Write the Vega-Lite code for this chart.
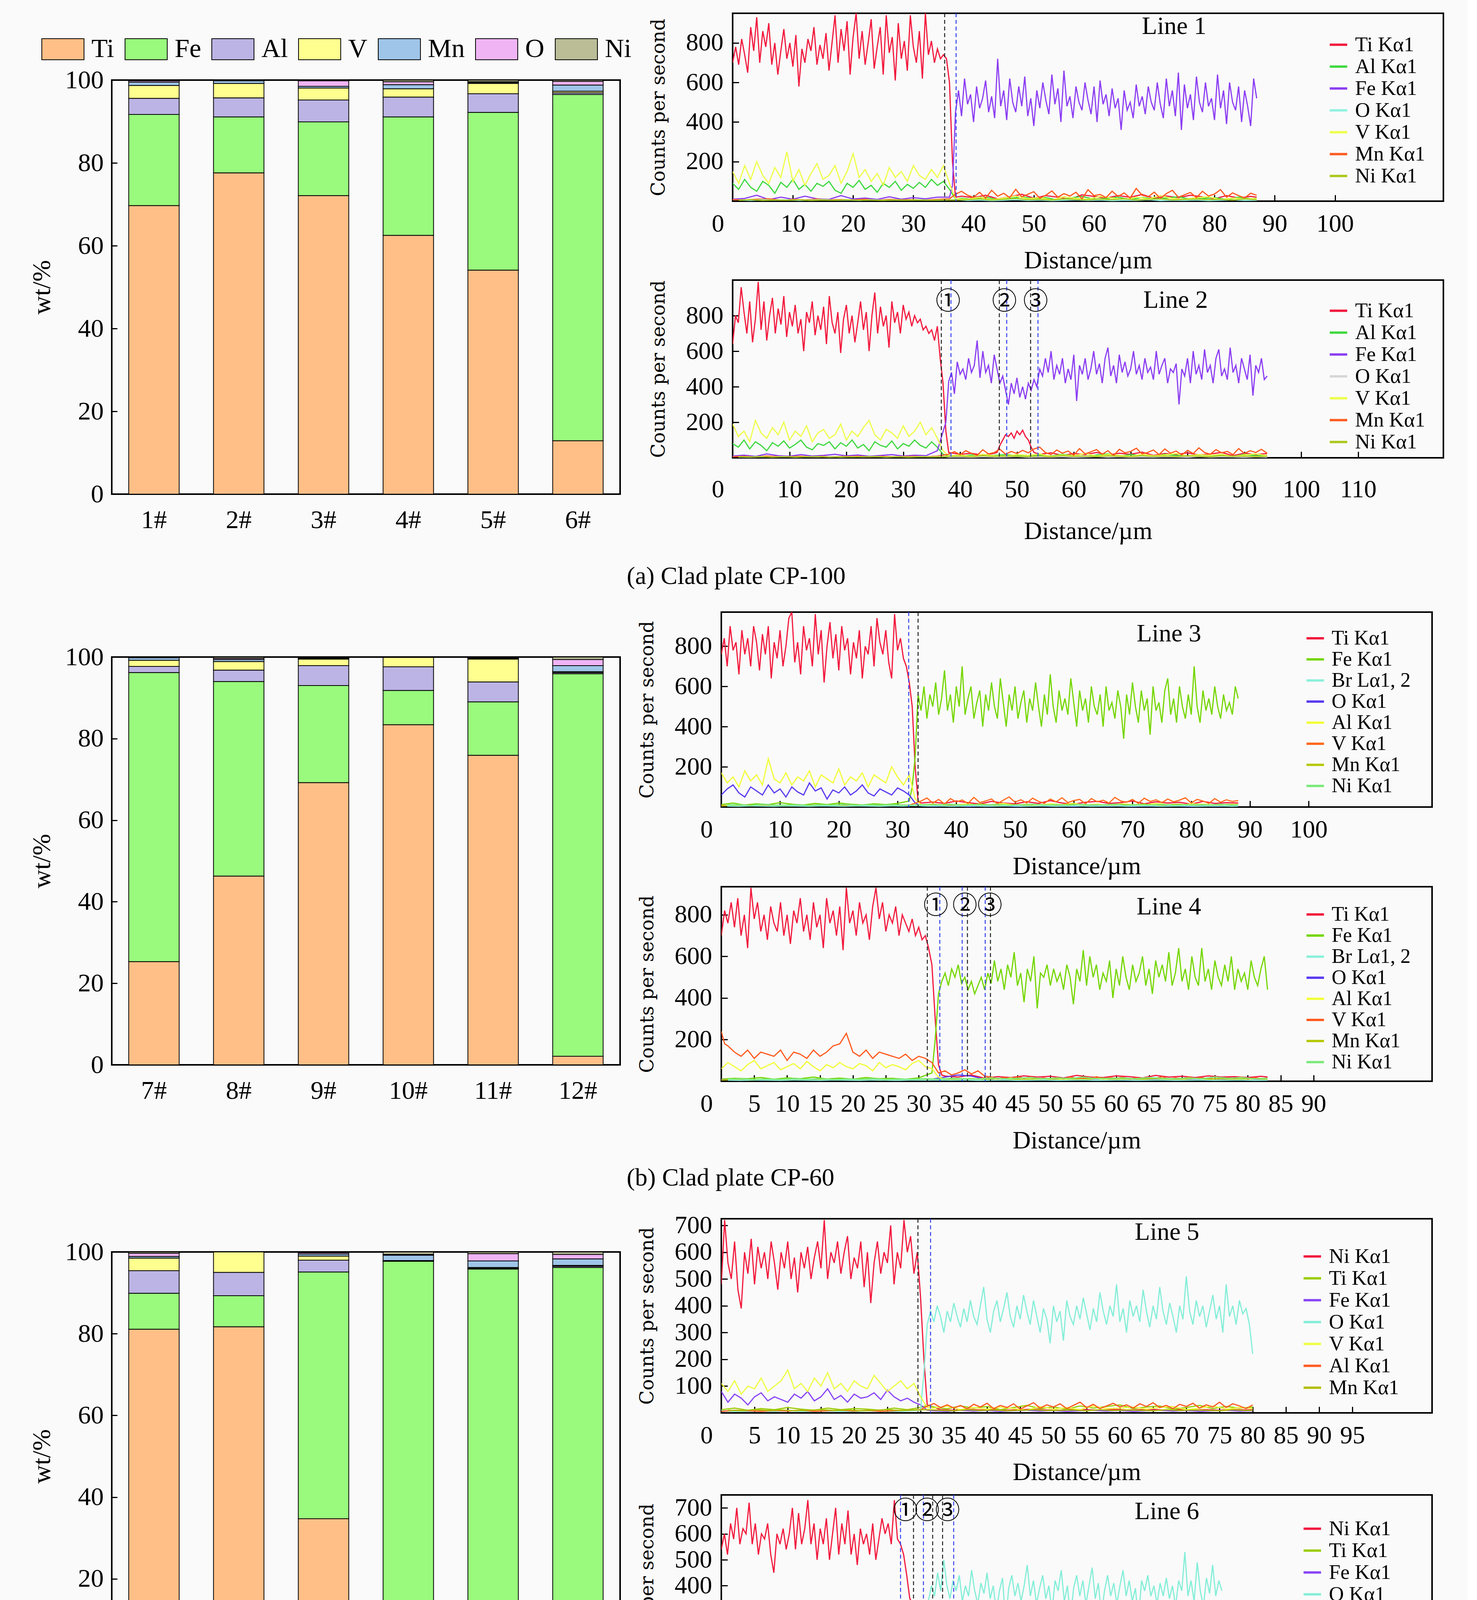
{
  "$schema": "https://vega.github.io/schema/vega-lite/v6.json",
  "background": "#FAFAFA",
  "padding": {"left": 72, "top": 30, "right": 60, "bottom": 0},
  "config": {
    "font": "Liberation Serif",
    "view": {"stroke": "#000000", "strokeWidth": 4},
    "axis": {"grid": false, "domain": false, "tickColor": "#000000", "tickWidth": 3, "labelColor": "#000000", "titleColor": "#000000", "titleFontWeight": "normal", "labelFont": "Liberation Serif", "titleFont": "Liberation Serif", "labelOverlap": false},
    "legend": {"labelColor": "#000000", "labelFont": "Liberation Serif", "padding": 0, "labelLimit": 0},
    "title": {"font": "Liberation Serif", "fontWeight": "normal", "color": "#000000"}
  },
  "datasets": {
    "B1": [
      {"s":"1#","Ti":69.7,"Fe":22.0,"Al":3.9,"V":3.1,"Mn":0.8,"O":0.3,"Ni":0.2},
      {"s":"2#","Ti":77.6,"Fe":13.5,"Al":4.6,"V":3.5,"Mn":0.6,"O":0.1,"Ni":0.1},
      {"s":"3#","Ti":72.1,"Fe":17.8,"Al":5.3,"V":2.9,"Mn":0.4,"O":1.3,"Ni":0.2},
      {"s":"4#","Ti":62.5,"Fe":28.6,"Al":4.8,"V":2.0,"Mn":1.0,"O":0.7,"Ni":0.4},
      {"s":"5#","Ti":54.1,"Fe":38.1,"Al":4.5,"V":2.5,"Mn":0.2,"O":0.2,"Ni":0.4},
      {"s":"6#","Ti":12.9,"Fe":83.6,"Al":0.4,"V":0.4,"Mn":1.5,"O":0.9,"Ni":0.3}
    ],
    "B2": [
      {"s":"7#","Ti":25.3,"Fe":70.9,"Al":1.5,"V":1.5,"Mn":0.6,"O":0.1,"Ni":0.1},
      {"s":"8#","Ti":46.3,"Fe":47.7,"Al":2.8,"V":2.1,"Mn":0.5,"O":0.3,"Ni":0.3},
      {"s":"9#","Ti":69.2,"Fe":23.8,"Al":4.9,"V":1.6,"Mn":0.2,"O":0.1,"Ni":0.2},
      {"s":"10#","Ti":83.4,"Fe":8.4,"Al":5.8,"V":2.3,"Mn":0.1,"O":0,"Ni":0},
      {"s":"11#","Ti":75.9,"Fe":13.1,"Al":4.9,"V":5.6,"Mn":0.2,"O":0.1,"Ni":0.2},
      {"s":"12#","Ti":2.1,"Fe":93.8,"Al":0.3,"V":0.2,"Mn":1.5,"O":1.5,"Ni":0.6}
    ],
    "B3": [
      {"s":"13#","Ti":81.1,"Fe":8.8,"Al":5.5,"V":3.1,"Mn":0.4,"O":0.8,"Ni":0.3},
      {"s":"14#","Ti":81.7,"Fe":7.6,"Al":5.7,"V":5.0,"Mn":0,"O":0,"Ni":0},
      {"s":"15#","Ti":34.7,"Fe":60.4,"Al":2.9,"V":1.0,"Mn":0.5,"O":0.3,"Ni":0.2},
      {"s":"16#","Ti":0.9,"Fe":96.8,"Al":0.1,"V":0.1,"Mn":1.3,"O":0.2,"Ni":0.6},
      {"s":"17#","Ti":2.2,"Fe":93.6,"Al":0.2,"V":0.2,"Mn":1.6,"O":1.8,"Ni":0.4},
      {"s":"18#","Ti":2.7,"Fe":93.5,"Al":0.3,"V":0.2,"Mn":1.6,"O":1.1,"Ni":0.6}
    ],
    "L1": [
      {"d":0,"Ti":700,"V":150,"Al":90,"Fe":10,"Mn":8},{"d":0.5,"Ti":780},
      {"d":1,"Ti":690,"V":90,"Al":60,"O":6,"Ni":5},{"d":1.5,"Ti":820},
      {"d":2,"Ti":740,"V":180,"Al":110,"Fe":14,"Mn":6},{"d":2.5,"Ti":650},
      {"d":3,"Ti":880,"V":110,"Al":70,"O":4,"Ni":8},{"d":3.5,"Ti":760},
      {"d":4,"Ti":930,"V":200,"Al":50,"Fe":30,"Mn":10},{"d":4.5,"Ti":700},
      {"d":5,"Ti":860,"V":130,"Al":100,"O":8,"Ni":4},{"d":5.5,"Ti":780},
      {"d":6,"Ti":900,"V":90,"Al":80,"Fe":8,"Mn":12},{"d":6.5,"Ti":690},
      {"d":7,"Ti":800,"V":170,"Al":40,"O":5,"Ni":6},{"d":7.5,"Ti":640},
      {"d":8,"Ti":760,"V":120,"Al":95,"Fe":20,"Mn":5},{"d":8.5,"Ti":870},
      {"d":9,"Ti":720,"V":250,"Al":70,"O":7,"Ni":5},{"d":9.5,"Ti":800},
      {"d":10,"Ti":680,"V":100,"Al":110,"Fe":10,"Mn":9},{"d":10.5,"Ti":840},
      {"d":11,"Ti":580,"V":160,"Al":60,"O":4,"Ni":7},{"d":11.5,"Ti":770},
      {"d":12,"Ti":700,"V":80,"Al":85,"Fe":25,"Mn":6},{"d":12.5,"Ti":820},
      {"d":13,"Ti":760,"V":140,"Al":50,"O":6,"Ni":4},{"d":13.5,"Ti":880},
      {"d":14,"Ti":690,"V":190,"Al":90,"Fe":12,"Mn":11},{"d":14.5,"Ti":790},
      {"d":15,"Ti":720,"V":110,"Al":75,"O":8,"Ni":6},{"d":15.5,"Ti":850},
      {"d":16,"Ti":660,"V":130,"Al":100,"Fe":9,"Mn":7},{"d":16.5,"Ti":800},
      {"d":17,"Ti":940,"V":180,"Al":55,"O":5,"Ni":5},{"d":17.5,"Ti":700},
      {"d":18,"Ti":870,"V":90,"Al":40,"Fe":28,"Mn":8},{"d":18.5,"Ti":760},
      {"d":19,"Ti":910,"V":150,"Al":90,"O":6,"Ni":7},{"d":19.5,"Ti":640},
      {"d":20,"Ti":830,"V":240,"Al":70,"Fe":11,"Mn":6},{"d":20.5,"Ti":950},
      {"d":21,"Ti":720,"V":120,"Al":105,"O":4,"Ni":5},{"d":21.5,"Ti":860},
      {"d":22,"Ti":690,"V":160,"Al":60,"Fe":16,"Mn":10},{"d":22.5,"Ti":800},
      {"d":23,"Ti":920,"V":100,"Al":80,"O":7,"Ni":6},{"d":23.5,"Ti":670},
      {"d":24,"Ti":780,"V":140,"Al":45,"Fe":9,"Mn":5},{"d":24.5,"Ti":880},
      {"d":25,"Ti":640,"V":80,"Al":90,"O":5,"Ni":4},{"d":25.5,"Ti":940},
      {"d":26,"Ti":750,"V":170,"Al":70,"Fe":22,"Mn":9},{"d":26.5,"Ti":830},
      {"d":27,"Ti":610,"V":120,"Al":100,"O":6,"Ni":6},{"d":27.5,"Ti":900},
      {"d":28,"Ti":720,"V":150,"Al":55,"Fe":10,"Mn":7},{"d":28.5,"Ti":810},
      {"d":29,"Ti":660,"V":100,"Al":85,"O":5,"Ni":5},{"d":29.5,"Ti":940},
      {"d":30,"Ti":780,"V":180,"Al":65,"Fe":18,"Mn":8},{"d":30.5,"Ti":700},
      {"d":31,"Ti":860,"V":130,"Al":95,"O":7,"Ni":6},{"d":31.5,"Ti":620},
      {"d":32,"Ti":950,"V":110,"Al":70,"Fe":12,"Mn":6},{"d":32.5,"Ti":740},
      {"d":33,"Ti":810,"V":160,"Al":110,"O":5,"Ni":5},{"d":33.5,"Ti":700},
      {"d":34,"Ti":770,"V":120,"Al":80,"Fe":20,"Mn":9},{"d":34.5,"Ti":720},
      {"d":35,"Ti":740,"V":180,"Al":100,"O":6,"Ni":6},{"d":35.5,"Ti":720},
      {"d":36,"Ti":600,"V":90,"Al":60,"Fe":20,"Mn":12},{"d":36.5,"Ti":200,"Fe":80},
      {"d":37,"Ti":20,"Fe":450,"V":12,"Al":10,"O":8,"Ni":6,"Mn":35},{"d":37.5,"Fe":560},
      {"d":38,"Fe":430,"Mn":50,"Ti":25,"Al":15},{"d":38.5,"Fe":620},
      {"d":39,"Fe":490,"Mn":30,"V":10,"O":4,"Ni":8},{"d":39.5,"Fe":540},
      {"d":40,"Fe":400,"Mn":20,"Ti":18,"Al":10},{"d":40.5,"Fe":580},
      {"d":41,"Fe":470,"Mn":45,"V":20,"O":6,"Ni":12},{"d":41.5,"Fe":520},
      {"d":42,"Fe":610,"Mn":15,"Ti":30,"Al":20},{"d":42.5,"Fe":450},
      {"d":43,"Fe":530,"Mn":55,"V":8,"O":3,"Ni":6},{"d":43.5,"Fe":420},
      {"d":44,"Fe":720,"Mn":25,"Ti":12,"Al":8},{"d":44.5,"Fe":480},
      {"d":45,"Fe":560,"Mn":40,"V":16,"O":5,"Ni":10},{"d":45.5,"Fe":410},
      {"d":46,"Fe":620,"Mn":18,"Ti":22,"Al":14},{"d":46.5,"Fe":500},
      {"d":47,"Fe":450,"Mn":60,"V":26,"O":8,"Ni":14},{"d":47.5,"Fe":580},
      {"d":48,"Fe":480,"Mn":22,"Ti":35,"Al":22},{"d":48.5,"Fe":630},
      {"d":49,"Fe":430,"Mn":35,"V":12,"O":4,"Ni":8},{"d":49.5,"Fe":520},
      {"d":50,"Fe":380,"Mn":48,"Ti":15,"Al":12},{"d":50.5,"Fe":560},
      {"d":51,"Fe":470,"Mn":15,"V":18,"O":6,"Ni":10},{"d":51.5,"Fe":600},
      {"d":52,"Fe":510,"Mn":30,"Ti":28,"Al":18},{"d":52.5,"Fe":440},
      {"d":53,"Fe":640,"Mn":52,"V":6,"O":3,"Ni":6},{"d":53.5,"Fe":490},
      {"d":54,"Fe":570,"Mn":20,"Ti":20,"Al":6},{"d":54.5,"Fe":400},
      {"d":55,"Fe":660,"Mn":38,"V":22,"O":5,"Ni":12},{"d":55.5,"Fe":480},
      {"d":56,"Fe":530,"Mn":26,"Ti":10,"Al":16},{"d":56.5,"Fe":420},
      {"d":57,"Fe":580,"Mn":45,"V":14,"O":7,"Ni":9},{"d":57.5,"Fe":500},
      {"d":58,"Fe":460,"Mn":12,"Ti":32,"Al":24},{"d":58.5,"Fe":600},
      {"d":59,"Fe":510,"Mn":58,"V":10,"O":4,"Ni":7},{"d":59.5,"Fe":440},
      {"d":60,"Fe":580,"Mn":28,"Ti":24,"Al":10},{"d":60.5,"Fe":400},
      {"d":61,"Fe":610,"Mn":34,"V":24,"O":6,"Ni":11},{"d":61.5,"Fe":490},
      {"d":62,"Fe":540,"Mn":18,"Ti":16,"Al":14},{"d":62.5,"Fe":430},
      {"d":63,"Fe":570,"Mn":50,"V":16,"O":3,"Ni":8},{"d":63.5,"Fe":470},
      {"d":64,"Fe":520,"Mn":24,"Ti":28,"Al":20},{"d":64.5,"Fe":360},
      {"d":65,"Fe":560,"Mn":42,"V":8,"O":5,"Ni":13},{"d":65.5,"Fe":460},
      {"d":66,"Fe":500,"Mn":16,"Ti":20,"Al":8},{"d":66.5,"Fe":420},
      {"d":67,"Fe":590,"Mn":64,"V":20,"O":4,"Ni":6},{"d":67.5,"Fe":480},
      {"d":68,"Fe":530,"Mn":30,"Ti":34,"Al":18},{"d":68.5,"Fe":440},
      {"d":69,"Fe":580,"Mn":22,"V":12,"O":8,"Ni":10},{"d":69.5,"Fe":500},
      {"d":70,"Fe":460,"Mn":46,"Ti":14,"Al":12},{"d":70.5,"Fe":600},
      {"d":71,"Fe":490,"Mn":14,"V":28,"O":3,"Ni":12},{"d":71.5,"Fe":420},
      {"d":72,"Fe":620,"Mn":38,"Ti":26,"Al":16},{"d":72.5,"Fe":480},
      {"d":73,"Fe":560,"Mn":55,"V":14,"O":5,"Ni":7},{"d":73.5,"Fe":430},
      {"d":74,"Fe":650,"Mn":20,"Ti":18,"Al":22},{"d":74.5,"Fe":360},
      {"d":75,"Fe":590,"Mn":32,"V":10,"O":4,"Ni":9},{"d":75.5,"Fe":470},
      {"d":76,"Fe":540,"Mn":44,"Ti":30,"Al":10},{"d":76.5,"Fe":410},
      {"d":77,"Fe":630,"Mn":18,"V":18,"O":6,"Ni":11},{"d":77.5,"Fe":500},
      {"d":78,"Fe":450,"Mn":50,"Ti":22,"Al":14},{"d":78.5,"Fe":600},
      {"d":79,"Fe":480,"Mn":26,"V":22,"O":3,"Ni":8},{"d":79.5,"Fe":520},
      {"d":80,"Fe":410,"Mn":36,"Ti":12,"Al":18},{"d":80.5,"Fe":640},
      {"d":81,"Fe":470,"Mn":58,"V":8,"O":5,"Ni":10},{"d":81.5,"Fe":560},
      {"d":82,"Fe":390,"Mn":20,"Ti":28,"Al":8},{"d":82.5,"Fe":600},
      {"d":83,"Fe":500,"Mn":42,"V":16,"O":7,"Ni":6},{"d":83.5,"Fe":460},
      {"d":84,"Fe":580,"Mn":28,"Ti":16,"Al":20},{"d":84.5,"Fe":400},
      {"d":85,"Fe":560,"Mn":16,"V":12,"O":4,"Ni":12},{"d":85.5,"Fe":480},
      {"d":86,"Fe":380,"Mn":40,"Ti":24,"Al":12},{"d":86.5,"Fe":620},
      {"d":87,"Fe":520,"Mn":30,"Ti":20,"Al":15,"V":14,"O":5,"Ni":8}
    ],
    "L2": [
      {"d":0,"Ti":640,"V":190,"Al":80,"Fe":10,"Mn":6},{"d":0.5,"Ti":800},
      {"d":1,"Ti":760,"V":120,"Al":60,"O":5,"Ni":6},{"d":1.5,"Ti":960},
      {"d":2,"Ti":820,"V":150,"Al":100,"Fe":15,"Mn":8},{"d":2.5,"Ti":700},
      {"d":3,"Ti":880,"V":90,"Al":50,"O":4,"Ni":5},{"d":3.5,"Ti":650},
      {"d":4,"Ti":780,"V":210,"Al":90,"Fe":8,"Mn":5},{"d":4.5,"Ti":990},
      {"d":5,"Ti":720,"V":140,"Al":70,"O":6,"Ni":7},{"d":5.5,"Ti":880},
      {"d":6,"Ti":660,"V":110,"Al":40,"Fe":22,"Mn":10},{"d":6.5,"Ti":800},
      {"d":7,"Ti":900,"V":170,"Al":85,"O":5,"Ni":4},{"d":7.5,"Ti":700},
      {"d":8,"Ti":840,"V":130,"Al":65,"Fe":12,"Mn":7},{"d":8.5,"Ti":750},
      {"d":9,"Ti":910,"V":200,"Al":95,"O":7,"Ni":6},{"d":9.5,"Ti":680},
      {"d":10,"Ti":820,"V":100,"Al":55,"Fe":9,"Mn":6},{"d":10.5,"Ti":740},
      {"d":11,"Ti":860,"V":150,"Al":75,"O":4,"Ni":5},{"d":11.5,"Ti":700},
      {"d":12,"Ti":780,"V":120,"Al":100,"Fe":18,"Mn":9},{"d":12.5,"Ti":600},
      {"d":13,"Ti":820,"V":180,"Al":60,"O":6,"Ni":6},{"d":13.5,"Ti":760},
      {"d":14,"Ti":880,"V":90,"Al":45,"Fe":10,"Mn":5},{"d":14.5,"Ti":690},
      {"d":15,"Ti":800,"V":140,"Al":80,"O":5,"Ni":7},{"d":15.5,"Ti":720},
      {"d":16,"Ti":850,"V":160,"Al":70,"Fe":14,"Mn":8},{"d":16.5,"Ti":640},
      {"d":17,"Ti":910,"V":110,"Al":90,"O":7,"Ni":4},{"d":17.5,"Ti":760},
      {"d":18,"Ti":700,"V":130,"Al":50,"Fe":20,"Mn":6},{"d":18.5,"Ti":820},
      {"d":19,"Ti":590,"V":190,"Al":85,"O":4,"Ni":6},{"d":19.5,"Ti":780},
      {"d":20,"Ti":860,"V":100,"Al":65,"Fe":11,"Mn":7},{"d":20.5,"Ti":700},
      {"d":21,"Ti":800,"V":150,"Al":100,"O":6,"Ni":5},{"d":21.5,"Ti":650},
      {"d":22,"Ti":760,"V":120,"Al":55,"Fe":16,"Mn":9},{"d":22.5,"Ti":880},
      {"d":23,"Ti":720,"V":170,"Al":75,"O":5,"Ni":6},{"d":23.5,"Ti":820},
      {"d":24,"Ti":600,"V":210,"Al":40,"Fe":9,"Mn":5},{"d":24.5,"Ti":800},
      {"d":25,"Ti":930,"V":130,"Al":90,"O":7,"Ni":7},{"d":25.5,"Ti":700},
      {"d":26,"Ti":850,"V":100,"Al":70,"Fe":13,"Mn":8},{"d":26.5,"Ti":740},
      {"d":27,"Ti":800,"V":160,"Al":60,"O":4,"Ni":5},{"d":27.5,"Ti":620},
      {"d":28,"Ti":880,"V":140,"Al":95,"Fe":18,"Mn":6},{"d":28.5,"Ti":760},
      {"d":29,"Ti":820,"V":110,"Al":50,"O":6,"Ni":6},{"d":29.5,"Ti":700},
      {"d":30,"Ti":860,"V":180,"Al":80,"Fe":10,"Mn":7},{"d":30.5,"Ti":780},
      {"d":31,"Ti":820,"V":120,"Al":65,"O":5,"Ni":4},{"d":31.5,"Ti":740},
      {"d":32,"Ti":800,"V":150,"Al":100,"Fe":15,"Mn":9},{"d":32.5,"Ti":760},
      {"d":33,"Ti":780,"V":200,"Al":70,"O":7,"Ni":6},{"d":33.5,"Ti":720},
      {"d":34,"Ti":740,"V":130,"Al":55,"Fe":12,"Mn":6},{"d":34.5,"Ti":700},
      {"d":35,"Ti":720,"V":170,"Al":90,"O":6,"Ni":5},{"d":35.5,"Ti":660},
      {"d":36,"Ti":740,"V":110,"Al":60,"Fe":40,"Mn":10},{"d":36.5,"Ti":560},
      {"d":37,"Ti":420,"V":40,"Al":20,"O":8,"Ni":6},{"d":37.5,"Ti":150,"Fe":200},
      {"d":38,"Ti":30,"Fe":430,"Mn":20,"Al":12,"V":10,"O":4,"Ni":8},{"d":38.5,"Fe":480},
      {"d":39,"Fe":360,"Mn":35},{"d":39.5,"Fe":540},
      {"d":40,"Fe":470,"Mn":18,"Ti":20,"Al":8,"V":16,"O":5,"Ni":10},{"d":40.5,"Fe":500},
      {"d":41,"Fe":440,"Mn":40},{"d":41.5,"Fe":560},
      {"d":42,"Fe":480,"Mn":25,"Ti":25,"Al":16,"V":8,"O":3,"Ni":6},{"d":42.5,"Fe":520},
      {"d":43,"Fe":660,"Mn":14},{"d":43.5,"Fe":450},
      {"d":44,"Fe":600,"Mn":45,"Ti":15,"Al":10,"V":20,"O":6,"Ni":12},{"d":44.5,"Fe":480},
      {"d":45,"Fe":520,"Mn":22},{"d":45.5,"Fe":420},
      {"d":46,"Fe":580,"Mn":30,"Ti":25,"Al":14,"V":12,"O":4,"Ni":8},{"d":46.5,"Fe":500,"Ti":30},
      {"d":47,"Fe":420,"Ti":70,"Mn":48},{"d":47.5,"Fe":460,"Ti":100},
      {"d":48,"Fe":380,"Ti":130,"Mn":20,"Al":18,"V":10,"O":5,"Ni":10},{"d":48.5,"Fe":300,"Ti":120},
      {"d":49,"Fe":420,"Ti":140,"Mn":36},{"d":49.5,"Fe":360,"Ti":110},
      {"d":50,"Fe":450,"Ti":150,"Mn":24,"Al":12,"V":18,"O":7,"Ni":9},{"d":50.5,"Fe":340,"Ti":130},
      {"d":51,"Fe":400,"Ti":155,"Mn":42},{"d":51.5,"Fe":330,"Ti":120},
      {"d":52,"Fe":420,"Ti":100,"Mn":28,"Al":8,"V":14,"O":3,"Ni":7},{"d":52.5,"Fe":380,"Ti":60},
      {"d":53,"Fe":440,"Ti":30,"Mn":50},{"d":53.5,"Fe":400},
      {"d":54,"Fe":500,"Mn":60,"Ti":20,"Al":16,"V":22,"O":5,"Ni":11},{"d":54.5,"Fe":460},
      {"d":55,"Fe":560,"Mn":30},{"d":55.5,"Fe":480},
      {"d":56,"Fe":600,"Mn":18,"Ti":28,"Al":10,"V":8,"O":4,"Ni":6},{"d":56.5,"Fe":440},
      {"d":57,"Fe":520,"Mn":44},{"d":57.5,"Fe":470},
      {"d":58,"Fe":560,"Mn":26,"Ti":14,"Al":20,"V":16,"O":6,"Ni":12},{"d":58.5,"Fe":420},
      {"d":59,"Fe":500,"Mn":38},{"d":59.5,"Fe":440},
      {"d":60,"Fe":580,"Mn":15,"Ti":24,"Al":12,"V":12,"O":3,"Ni":8},{"d":60.5,"Fe":320},
      {"d":61,"Fe":520,"Mn":52},{"d":61.5,"Fe":470},
      {"d":62,"Fe":560,"Mn":22,"Ti":18,"Al":6,"V":24,"O":5,"Ni":10},{"d":62.5,"Fe":440},
      {"d":63,"Fe":500,"Mn":34},{"d":63.5,"Fe":600},
      {"d":64,"Fe":470,"Mn":46,"Ti":30,"Al":16,"V":10,"O":7,"Ni":7},{"d":64.5,"Fe":530},
      {"d":65,"Fe":420,"Mn":20},{"d":65.5,"Fe":560},
      {"d":66,"Fe":620,"Mn":40,"Ti":16,"Al":22,"V":18,"O":4,"Ni":11},{"d":66.5,"Fe":460},
      {"d":67,"Fe":520,"Mn":12},{"d":67.5,"Fe":420},
      {"d":68,"Fe":580,"Mn":48,"Ti":26,"Al":10,"V":14,"O":6,"Ni":9},{"d":68.5,"Fe":480},
      {"d":69,"Fe":540,"Mn":28},{"d":69.5,"Fe":460},
      {"d":70,"Fe":500,"Mn":36,"Ti":20,"Al":18,"V":8,"O":3,"Ni":6},{"d":70.5,"Fe":600},
      {"d":71,"Fe":470,"Mn":54},{"d":71.5,"Fe":520},
      {"d":72,"Fe":440,"Mn":22,"Ti":32,"Al":12,"V":20,"O":5,"Ni":12},{"d":72.5,"Fe":560},
      {"d":73,"Fe":480,"Mn":30},{"d":73.5,"Fe":510},
      {"d":74,"Fe":440,"Mn":44,"Ti":14,"Al":8,"V":12,"O":4,"Ni":8},{"d":74.5,"Fe":600},
      {"d":75,"Fe":470,"Mn":18},{"d":75.5,"Fe":520},
      {"d":76,"Fe":560,"Mn":50,"Ti":24,"Al":20,"V":16,"O":6,"Ni":10},{"d":76.5,"Fe":420},
      {"d":77,"Fe":500,"Mn":26},{"d":77.5,"Fe":480},
      {"d":78,"Fe":530,"Mn":38,"Ti":18,"Al":14,"V":24,"O":5,"Ni":7},{"d":78.5,"Fe":300},
      {"d":79,"Fe":500,"Mn":16},{"d":79.5,"Fe":460},
      {"d":80,"Fe":560,"Mn":42,"Ti":28,"Al":10,"V":10,"O":3,"Ni":11},{"d":80.5,"Fe":420},
      {"d":81,"Fe":600,"Mn":24},{"d":81.5,"Fe":470},
      {"d":82,"Fe":520,"Mn":56,"Ti":16,"Al":18,"V":18,"O":7,"Ni":9},{"d":82.5,"Fe":440},
      {"d":83,"Fe":610,"Mn":30},{"d":83.5,"Fe":480},
      {"d":84,"Fe":520,"Mn":20,"Ti":22,"Al":12,"V":14,"O":4,"Ni":6},{"d":84.5,"Fe":420},
      {"d":85,"Fe":560,"Mn":46},{"d":85.5,"Fe":610},
      {"d":86,"Fe":460,"Mn":28,"Ti":30,"Al":16,"V":20,"O":6,"Ni":12},{"d":86.5,"Fe":500},
      {"d":87,"Fe":440,"Mn":36},{"d":87.5,"Fe":620},
      {"d":88,"Fe":480,"Mn":18,"Ti":12,"Al":8,"V":8,"O":5,"Ni":8},{"d":88.5,"Fe":520},
      {"d":89,"Fe":420,"Mn":52},{"d":89.5,"Fe":560},
      {"d":90,"Fe":500,"Mn":24,"Ti":26,"Al":20,"V":16,"O":3,"Ni":10},{"d":90.5,"Fe":440},
      {"d":91,"Fe":580,"Mn":40},{"d":91.5,"Fe":350},
      {"d":92,"Fe":520,"Mn":30,"Ti":18,"Al":12,"V":22,"O":6,"Ni":7},{"d":92.5,"Fe":480},
      {"d":93,"Fe":560,"Mn":48},{"d":93.5,"Fe":440},
      {"d":94,"Fe":460,"Mn":26,"Ti":24,"Al":14,"V":12,"O":4,"Ni":9}
    ],
    "L3": [
      {"d":0,"Ti":760,"Al":170,"O":60,"Fe":12,"V":8,"Mn":6},{"d":0.5,"Ti":840},
      {"d":1,"Ti":700,"Al":120,"O":90,"Br":5,"Ni":10},{"d":1.5,"Ti":900},
      {"d":2,"Ti":780,"Al":150,"O":110,"Fe":20,"V":6,"Mn":8},{"d":2.5,"Ti":820},
      {"d":3,"Ti":660,"Al":100,"O":70,"Br":4,"Ni":12},{"d":3.5,"Ti":880},
      {"d":4,"Ti":760,"Al":180,"O":50,"Fe":10,"V":10,"Mn":5},{"d":4.5,"Ti":840},
      {"d":5,"Ti":700,"Al":130,"O":100,"Br":6,"Ni":8},{"d":5.5,"Ti":900},
      {"d":6,"Ti":820,"Al":160,"O":80,"Fe":16,"V":7,"Mn":9},{"d":6.5,"Ti":680},
      {"d":7,"Ti":860,"Al":110,"O":60,"Br":5,"Ni":14},{"d":7.5,"Ti":760},
      {"d":8,"Ti":900,"Al":240,"O":110,"Fe":12,"V":9,"Mn":6},{"d":8.5,"Ti":640},
      {"d":9,"Ti":820,"Al":140,"O":70,"Br":4,"Ni":10},{"d":9.5,"Ti":740},
      {"d":10,"Ti":880,"Al":120,"O":90,"Fe":22,"V":5,"Mn":7},{"d":10.5,"Ti":700},
      {"d":11,"Ti":800,"Al":170,"O":50,"Br":6,"Ni":9},{"d":11.5,"Ti":940},
      {"d":12,"Ti":970,"Al":110,"O":100,"Fe":14,"V":8,"Mn":5},{"d":12.5,"Ti":720},
      {"d":13,"Ti":820,"Al":150,"O":75,"Br":5,"Ni":12},{"d":13.5,"Ti":660},
      {"d":14,"Ti":900,"Al":130,"O":60,"Fe":10,"V":6,"Mn":8},{"d":14.5,"Ti":780},
      {"d":15,"Ti":840,"Al":180,"O":120,"Br":4,"Ni":8},{"d":15.5,"Ti":700},
      {"d":16,"Ti":960,"Al":100,"O":80,"Fe":18,"V":10,"Mn":6},{"d":16.5,"Ti":760},
      {"d":17,"Ti":880,"Al":160,"O":95,"Br":6,"Ni":11},{"d":17.5,"Ti":620},
      {"d":18,"Ti":800,"Al":140,"O":40,"Fe":12,"V":7,"Mn":9},{"d":18.5,"Ti":920},
      {"d":19,"Ti":740,"Al":120,"O":85,"Br":5,"Ni":10},{"d":19.5,"Ti":860},
      {"d":20,"Ti":680,"Al":190,"O":70,"Fe":20,"V":5,"Mn":7},{"d":20.5,"Ti":900},
      {"d":21,"Ti":780,"Al":110,"O":100,"Br":4,"Ni":13},{"d":21.5,"Ti":840},
      {"d":22,"Ti":660,"Al":150,"O":60,"Fe":14,"V":9,"Mn":5},{"d":22.5,"Ti":820},
      {"d":23,"Ti":740,"Al":130,"O":80,"Br":6,"Ni":9},{"d":23.5,"Ti":880},
      {"d":24,"Ti":640,"Al":170,"O":110,"Fe":10,"V":6,"Mn":8},{"d":24.5,"Ti":800},
      {"d":25,"Ti":760,"Al":100,"O":70,"Br":5,"Ni":11},{"d":25.5,"Ti":900},
      {"d":26,"Ti":700,"Al":160,"O":55,"Fe":16,"V":8,"Mn":6},{"d":26.5,"Ti":940},
      {"d":27,"Ti":820,"Al":140,"O":90,"Br":4,"Ni":10},{"d":27.5,"Ti":760},
      {"d":28,"Ti":880,"Al":120,"O":75,"Fe":12,"V":7,"Mn":9},{"d":28.5,"Ti":720},
      {"d":29,"Ti":640,"Al":200,"O":60,"Br":6,"Ni":12},{"d":29.5,"Ti":960},
      {"d":30,"Ti":780,"Al":150,"O":95,"Fe":18,"V":10,"Mn":7},{"d":30.5,"Ti":840},
      {"d":31,"Ti":740,"Al":110,"O":80,"Br":5,"Ni":9},{"d":31.5,"Ti":700},
      {"d":32,"Ti":620,"Al":160,"O":60,"Fe":30,"V":9,"Mn":8},{"d":32.5,"Ti":500,"Fe":100},
      {"d":33,"Ti":200,"Al":40,"O":20,"Fe":250,"Br":8,"Ni":10},{"d":33.5,"Ti":30,"Fe":560},
      {"d":34,"Fe":480,"V":30,"Ti":20,"Al":12,"O":6,"Mn":10},{"d":34.5,"Fe":600},
      {"d":35,"Fe":440,"V":45,"Br":5,"Ni":12},{"d":35.5,"Fe":560},
      {"d":36,"Fe":500,"V":20,"Ti":25,"Al":8,"O":4,"Mn":14},{"d":36.5,"Fe":620},
      {"d":37,"Fe":460,"V":38,"Br":6,"Ni":10},{"d":37.5,"Fe":540},
      {"d":38,"Fe":680,"V":15,"Ti":18,"Al":14,"O":5,"Mn":9},{"d":38.5,"Fe":480},
      {"d":39,"Fe":560,"V":42,"Br":4,"Ni":14},{"d":39.5,"Fe":420},
      {"d":40,"Fe":600,"V":25,"Ti":30,"Al":10,"O":6,"Mn":12},{"d":40.5,"Fe":500},
      {"d":41,"Fe":700,"V":35,"Br":5,"Ni":9},{"d":41.5,"Fe":460},
      {"d":42,"Fe":540,"V":18,"Ti":22,"Al":16,"O":3,"Mn":8},{"d":42.5,"Fe":600},
      {"d":43,"Fe":440,"V":48,"Br":6,"Ni":12},{"d":43.5,"Fe":520},
      {"d":44,"Fe":580,"V":22,"Ti":15,"Al":9,"O":5,"Mn":15},{"d":44.5,"Fe":400},
      {"d":45,"Fe":560,"V":30,"Br":4,"Ni":10},{"d":45.5,"Fe":480},
      {"d":46,"Fe":620,"V":40,"Ti":28,"Al":12,"O":4,"Mn":10},{"d":46.5,"Fe":500},
      {"d":47,"Fe":440,"V":16,"Br":5,"Ni":13},{"d":47.5,"Fe":640},
      {"d":48,"Fe":520,"V":34,"Ti":20,"Al":18,"O":6,"Mn":7},{"d":48.5,"Fe":400},
      {"d":49,"Fe":560,"V":50,"Br":6,"Ni":9},{"d":49.5,"Fe":480},
      {"d":50,"Fe":600,"V":24,"Ti":16,"Al":10,"O":3,"Mn":12},{"d":50.5,"Fe":440},
      {"d":51,"Fe":520,"V":36,"Br":4,"Ni":11},{"d":51.5,"Fe":580},
      {"d":52,"Fe":420,"V":20,"Ti":26,"Al":14,"O":5,"Mn":9},{"d":52.5,"Fe":540},
      {"d":53,"Fe":480,"V":44,"Br":5,"Ni":14},{"d":53.5,"Fe":620},
      {"d":54,"Fe":500,"V":28,"Ti":18,"Al":8,"O":6,"Mn":13},{"d":54.5,"Fe":400},
      {"d":55,"Fe":560,"V":18,"Br":6,"Ni":10},{"d":55.5,"Fe":460},
      {"d":56,"Fe":660,"V":40,"Ti":32,"Al":16,"O":4,"Mn":8},{"d":56.5,"Fe":500},
      {"d":57,"Fe":420,"V":26,"Br":4,"Ni":12},{"d":57.5,"Fe":580},
      {"d":58,"Fe":480,"V":46,"Ti":20,"Al":12,"O":5,"Mn":11},{"d":58.5,"Fe":540},
      {"d":59,"Fe":460,"V":22,"Br":5,"Ni":9},{"d":59.5,"Fe":640},
      {"d":60,"Fe":520,"V":32,"Ti":14,"Al":18,"O":3,"Mn":14},{"d":60.5,"Fe":400},
      {"d":61,"Fe":580,"V":38,"Br":6,"Ni":13},{"d":61.5,"Fe":480},
      {"d":62,"Fe":540,"V":16,"Ti":24,"Al":10,"O":6,"Mn":9},{"d":62.5,"Fe":420},
      {"d":63,"Fe":600,"V":42,"Br":4,"Ni":10},{"d":63.5,"Fe":500},
      {"d":64,"Fe":460,"V":26,"Ti":28,"Al":14,"O":5,"Mn":12},{"d":64.5,"Fe":560},
      {"d":65,"Fe":400,"V":34,"Br":5,"Ni":11},{"d":65.5,"Fe":600},
      {"d":66,"Fe":480,"V":20,"Ti":18,"Al":8,"O":4,"Mn":8},{"d":66.5,"Fe":520},
      {"d":67,"Fe":440,"V":48,"Br":6,"Ni":14},{"d":67.5,"Fe":580},
      {"d":68,"Fe":500,"V":30,"Ti":22,"Al":16,"O":6,"Mn":13},{"d":68.5,"Fe":340},
      {"d":69,"Fe":560,"V":24,"Br":4,"Ni":9},{"d":69.5,"Fe":460},
      {"d":70,"Fe":620,"V":38,"Ti":30,"Al":12,"O":3,"Mn":10},{"d":70.5,"Fe":500},
      {"d":71,"Fe":420,"V":18,"Br":5,"Ni":12},{"d":71.5,"Fe":580},
      {"d":72,"Fe":480,"V":44,"Ti":16,"Al":10,"O":5,"Mn":15},{"d":72.5,"Fe":540},
      {"d":73,"Fe":360,"V":28,"Br":6,"Ni":10},{"d":73.5,"Fe":600},
      {"d":74,"Fe":480,"V":36,"Ti":26,"Al":18,"O":4,"Mn":8},{"d":74.5,"Fe":520},
      {"d":75,"Fe":420,"V":22,"Br":4,"Ni":13},{"d":75.5,"Fe":580},
      {"d":76,"Fe":640,"V":40,"Ti":20,"Al":12,"O":6,"Mn":11},{"d":76.5,"Fe":460},
      {"d":77,"Fe":540,"V":26,"Br":5,"Ni":9},{"d":77.5,"Fe":420},
      {"d":78,"Fe":600,"V":34,"Ti":24,"Al":8,"O":5,"Mn":14},{"d":78.5,"Fe":500},
      {"d":79,"Fe":440,"V":46,"Br":6,"Ni":11},{"d":79.5,"Fe":560},
      {"d":80,"Fe":460,"V":20,"Ti":14,"Al":16,"O":3,"Mn":9},{"d":80.5,"Fe":700},
      {"d":81,"Fe":500,"V":38,"Br":4,"Ni":12},{"d":81.5,"Fe":420},
      {"d":82,"Fe":580,"V":30,"Ti":28,"Al":14,"O":6,"Mn":12},{"d":82.5,"Fe":480},
      {"d":83,"Fe":540,"V":18,"Br":5,"Ni":10},{"d":83.5,"Fe":460},
      {"d":84,"Fe":600,"V":42,"Ti":18,"Al":10,"O":4,"Mn":8},{"d":84.5,"Fe":500},
      {"d":85,"Fe":440,"V":24,"Br":6,"Ni":14},{"d":85.5,"Fe":560},
      {"d":86,"Fe":480,"V":36,"Ti":22,"Al":12,"O":5,"Mn":13},{"d":86.5,"Fe":520},
      {"d":87,"Fe":460,"V":28,"Br":4,"Ni":9},{"d":87.5,"Fe":600},
      {"d":88,"Fe":540,"V":32,"Ti":20,"Al":14,"O":6,"Mn":10,"Br":5,"Ni":11}
    ],
    "L4": [
      {"d":0,"Ti":700,"V":240,"Al":60,"Fe":10,"O":8,"Mn":6},{"d":0.5,"Ti":820,"V":180},
      {"d":1,"Ti":760,"V":170,"Al":90,"Br":5,"Ni":10},{"d":1.5,"Ti":860},
      {"d":2,"Ti":740,"V":140,"Al":70,"Fe":14,"O":6,"Mn":8},{"d":2.5,"Ti":880},
      {"d":3,"Ti":700,"V":120,"Al":50,"Br":4,"Ni":12},{"d":3.5,"Ti":800},
      {"d":4,"Ti":640,"V":150,"Al":80,"Fe":12,"O":10,"Mn":5},{"d":4.5,"Ti":930},
      {"d":5,"Ti":780,"V":110,"Al":100,"Br":6,"Ni":8},{"d":5.5,"Ti":860},
      {"d":6,"Ti":720,"V":140,"Al":60,"Fe":18,"O":5,"Mn":7},{"d":6.5,"Ti":800},
      {"d":7,"Ti":680,"V":130,"Al":75,"Br":5,"Ni":11},{"d":7.5,"Ti":840},
      {"d":8,"Ti":760,"V":120,"Al":90,"Fe":10,"O":8,"Mn":9},{"d":8.5,"Ti":720},
      {"d":9,"Ti":860,"V":150,"Al":55,"Br":4,"Ni":9},{"d":9.5,"Ti":700},
      {"d":10,"Ti":800,"V":100,"Al":70,"Fe":16,"O":6,"Mn":6},{"d":10.5,"Ti":660},
      {"d":11,"Ti":820,"V":140,"Al":85,"Br":6,"Ni":13},{"d":11.5,"Ti":760},
      {"d":12,"Ti":880,"V":130,"Al":60,"Fe":12,"O":9,"Mn":8},{"d":12.5,"Ti":720},
      {"d":13,"Ti":800,"V":110,"Al":95,"Br":5,"Ni":10},{"d":13.5,"Ti":680},
      {"d":14,"Ti":860,"V":150,"Al":70,"Fe":20,"O":7,"Mn":5},{"d":14.5,"Ti":740},
      {"d":15,"Ti":800,"V":120,"Al":50,"Br":4,"Ni":12},{"d":15.5,"Ti":640},
      {"d":16,"Ti":880,"V":140,"Al":80,"Fe":11,"O":6,"Mn":9},{"d":16.5,"Ti":760},
      {"d":17,"Ti":820,"V":170,"Al":65,"Br":6,"Ni":9},{"d":17.5,"Ti":700},
      {"d":18,"Ti":840,"V":180,"Al":90,"Fe":15,"O":8,"Mn":7},{"d":18.5,"Ti":630},
      {"d":19,"Ti":930,"V":230,"Al":70,"Br":5,"Ni":11},{"d":19.5,"Ti":760},
      {"d":20,"Ti":820,"V":140,"Al":60,"Fe":10,"O":5,"Mn":6},{"d":20.5,"Ti":700},
      {"d":21,"Ti":860,"V":120,"Al":85,"Br":4,"Ni":10},{"d":21.5,"Ti":760},
      {"d":22,"Ti":800,"V":150,"Al":75,"Fe":18,"O":9,"Mn":8},{"d":22.5,"Ti":680},
      {"d":23,"Ti":840,"V":110,"Al":50,"Br":6,"Ni":13},{"d":23.5,"Ti":930},
      {"d":24,"Ti":780,"V":140,"Al":90,"Fe":12,"O":6,"Mn":5},{"d":24.5,"Ti":860},
      {"d":25,"Ti":720,"V":130,"Al":65,"Br":5,"Ni":9},{"d":25.5,"Ti":800},
      {"d":26,"Ti":760,"V":120,"Al":80,"Fe":14,"O":7,"Mn":9},{"d":26.5,"Ti":840},
      {"d":27,"Ti":700,"V":110,"Al":70,"Br":4,"Ni":11},{"d":27.5,"Ti":800},
      {"d":28,"Ti":760,"V":130,"Al":55,"Fe":10,"O":8,"Mn":7},{"d":28.5,"Ti":720},
      {"d":29,"Ti":780,"V":100,"Al":85,"Br":6,"Ni":10},{"d":29.5,"Ti":700},
      {"d":30,"Ti":740,"V":120,"Al":100,"Fe":16,"O":6,"Mn":6},{"d":30.5,"Ti":680},
      {"d":31,"Ti":700,"V":110,"Al":70,"Br":5,"Ni":12},{"d":31.5,"Ti":640},
      {"d":32,"Ti":560,"V":90,"Al":60,"Fe":40,"O":10,"Mn":8},{"d":32.5,"Ti":300,"Fe":200},
      {"d":33,"Ti":80,"V":40,"Al":20,"Fe":420,"Br":6,"Ni":10},{"d":33.5,"Ti":30,"Fe":480},
      {"d":34,"Fe":520,"V":50,"Ti":25,"Al":10,"O":20,"Mn":8},{"d":34.5,"Fe":460},
      {"d":35,"Fe":540,"V":30,"Br":5,"Ni":14},{"d":35.5,"Fe":500},
      {"d":36,"Fe":560,"V":40,"Ti":20,"Al":12,"O":30,"Mn":10},{"d":36.5,"Fe":470},
      {"d":37,"Fe":500,"V":55,"Br":6,"Ni":12},{"d":37.5,"Fe":440},
      {"d":38,"Fe":480,"V":35,"Ti":30,"Al":8,"O":25,"Mn":12},{"d":38.5,"Fe":420},
      {"d":39,"Fe":460,"V":50,"Br":4,"Ni":10},{"d":39.5,"Fe":500},
      {"d":40,"Fe":440,"V":25,"Ti":15,"Al":14,"O":10,"Mn":9},{"d":40.5,"Fe":520},
      {"d":41,"Fe":470,"V":20,"Br":5,"Ni":16},{"d":41.5,"Fe":580},
      {"d":42,"Fe":480,"V":12,"Ti":22,"Al":10,"O":6,"Mn":14},{"d":42.5,"Fe":540},
      {"d":43,"Fe":440,"V":18,"Br":6,"Ni":12},{"d":43.5,"Fe":560},
      {"d":44,"Fe":500,"V":10,"Ti":18,"Al":16,"O":8,"Mn":10},{"d":44.5,"Fe":620},
      {"d":45,"Fe":460,"V":22,"Br":4,"Ni":14},{"d":45.5,"Fe":520},
      {"d":46,"Fe":380,"V":14,"Ti":26,"Al":12,"O":5,"Mn":8},{"d":46.5,"Fe":540},
      {"d":47,"Fe":480,"V":20,"Br":5,"Ni":18},{"d":47.5,"Fe":600},
      {"d":48,"Fe":350,"V":12,"Ti":20,"Al":10,"O":7,"Mn":12},{"d":48.5,"Fe":520},
      {"d":49,"Fe":500,"V":16,"Br":6,"Ni":12},{"d":49.5,"Fe":560},
      {"d":50,"Fe":460,"V":10,"Ti":24,"Al":14,"O":6,"Mn":10},{"d":50.5,"Fe":540},
      {"d":51,"Fe":480,"V":18,"Br":4,"Ni":16},{"d":51.5,"Fe":520},
      {"d":52,"Fe":440,"V":12,"Ti":16,"Al":8,"O":5,"Mn":14},{"d":52.5,"Fe":560},
      {"d":53,"Fe":500,"V":20,"Br":5,"Ni":13},{"d":53.5,"Fe":370},
      {"d":54,"Fe":540,"V":14,"Ti":28,"Al":12,"O":8,"Mn":9},{"d":54.5,"Fe":480},
      {"d":55,"Fe":630,"V":16,"Br":6,"Ni":20},{"d":55.5,"Fe":460},
      {"d":56,"Fe":600,"V":10,"Ti":20,"Al":16,"O":6,"Mn":11},{"d":56.5,"Fe":500},
      {"d":57,"Fe":560,"V":22,"Br":4,"Ni":12},{"d":57.5,"Fe":440},
      {"d":58,"Fe":520,"V":12,"Ti":18,"Al":10,"O":5,"Mn":15},{"d":58.5,"Fe":480},
      {"d":59,"Fe":580,"V":18,"Br":5,"Ni":14},{"d":59.5,"Fe":400},
      {"d":60,"Fe":540,"V":14,"Ti":26,"Al":12,"O":7,"Mn":8},{"d":60.5,"Fe":460},
      {"d":61,"Fe":600,"V":20,"Br":6,"Ni":16},{"d":61.5,"Fe":500},
      {"d":62,"Fe":440,"V":10,"Ti":22,"Al":14,"O":5,"Mn":12},{"d":62.5,"Fe":560},
      {"d":63,"Fe":480,"V":16,"Br":4,"Ni":12},{"d":63.5,"Fe":520},
      {"d":64,"Fe":600,"V":12,"Ti":16,"Al":10,"O":6,"Mn":10},{"d":64.5,"Fe":460},
      {"d":65,"Fe":540,"V":18,"Br":5,"Ni":18},{"d":65.5,"Fe":420},
      {"d":66,"Fe":580,"V":14,"Ti":28,"Al":16,"O":8,"Mn":13},{"d":66.5,"Fe":500},
      {"d":67,"Fe":560,"V":22,"Br":6,"Ni":14},{"d":67.5,"Fe":480},
      {"d":68,"Fe":620,"V":10,"Ti":20,"Al":12,"O":5,"Mn":9},{"d":68.5,"Fe":460},
      {"d":69,"Fe":520,"V":16,"Br":4,"Ni":12},{"d":69.5,"Fe":640},
      {"d":70,"Fe":480,"V":12,"Ti":24,"Al":10,"O":6,"Mn":11},{"d":70.5,"Fe":540},
      {"d":71,"Fe":440,"V":20,"Br":5,"Ni":16},{"d":71.5,"Fe":600},
      {"d":72,"Fe":500,"V":14,"Ti":18,"Al":14,"O":7,"Mn":14},{"d":72.5,"Fe":460},
      {"d":73,"Fe":640,"V":18,"Br":6,"Ni":12},{"d":73.5,"Fe":480},
      {"d":74,"Fe":540,"V":10,"Ti":26,"Al":8,"O":5,"Mn":10},{"d":74.5,"Fe":440},
      {"d":75,"Fe":580,"V":22,"Br":4,"Ni":20},{"d":75.5,"Fe":500},
      {"d":76,"Fe":460,"V":12,"Ti":20,"Al":16,"O":6,"Mn":12},{"d":76.5,"Fe":560},
      {"d":77,"Fe":480,"V":16,"Br":5,"Ni":14},{"d":77.5,"Fe":600},
      {"d":78,"Fe":440,"V":14,"Ti":22,"Al":12,"O":8,"Mn":9},{"d":78.5,"Fe":540},
      {"d":79,"Fe":480,"V":20,"Br":6,"Ni":18},{"d":79.5,"Fe":520},
      {"d":80,"Fe":440,"V":10,"Ti":18,"Al":10,"O":5,"Mn":13},{"d":80.5,"Fe":580},
      {"d":81,"Fe":500,"V":18,"Br":4,"Ni":12},{"d":81.5,"Fe":460},
      {"d":82,"Fe":540,"V":12,"Ti":24,"Al":14,"O":6,"Mn":11},{"d":82.5,"Fe":600},
      {"d":83,"Fe":440,"V":16,"Br":5,"Ni":14,"Ti":20,"Al":10,"O":5,"Mn":10}
    ],
    "L5": [
      {"d":0,"Ni":480,"V":110,"Fe":80,"Ti":12,"O":8,"Al":6},{"d":0.5,"Ni":720},
      {"d":1,"Ni":560,"V":80,"Fe":40,"Mn":10},{"d":1.5,"Ni":500},
      {"d":2,"Ni":640,"V":120,"Fe":70,"Ti":18,"O":6,"Al":10},{"d":2.5,"Ni":460},
      {"d":3,"Ni":390,"V":70,"Fe":55,"Mn":8},{"d":3.5,"Ni":600},
      {"d":4,"Ni":520,"V":100,"Fe":30,"Ti":10,"O":5,"Al":8},{"d":4.5,"Ni":650},
      {"d":5,"Ni":480,"V":90,"Fe":60,"Mn":12},{"d":5.5,"Ni":620},
      {"d":6,"Ni":540,"V":130,"Fe":75,"Ti":16,"O":7,"Al":6},{"d":6.5,"Ni":600},
      {"d":7,"Ni":500,"V":80,"Fe":45,"Mn":9},{"d":7.5,"Ni":640},
      {"d":8,"Ni":560,"V":100,"Fe":60,"Ti":12,"O":5,"Al":9},{"d":8.5,"Ni":460},
      {"d":9,"Ni":600,"V":120,"Fe":50,"Mn":11},{"d":9.5,"Ni":540},
      {"d":10,"Ni":640,"V":160,"Fe":40,"Ti":20,"O":8,"Al":7},{"d":10.5,"Ni":500},
      {"d":11,"Ni":580,"V":90,"Fe":70,"Mn":8},{"d":11.5,"Ni":450},
      {"d":12,"Ni":600,"V":110,"Fe":55,"Ti":14,"O":6,"Al":10},{"d":12.5,"Ni":540},
      {"d":13,"Ni":620,"V":80,"Fe":80,"Mn":10},{"d":13.5,"Ni":500},
      {"d":14,"Ni":580,"V":130,"Fe":45,"Ti":10,"O":5,"Al":6},{"d":14.5,"Ni":640},
      {"d":15,"Ni":540,"V":100,"Fe":60,"Mn":12},{"d":15.5,"Ni":720},
      {"d":16,"Ni":500,"V":150,"Fe":90,"Ti":18,"O":7,"Al":8},{"d":16.5,"Ni":600},
      {"d":17,"Ni":560,"V":90,"Fe":50,"Mn":9},{"d":17.5,"Ni":640},
      {"d":18,"Ni":520,"V":110,"Fe":65,"Ti":12,"O":6,"Al":10},{"d":18.5,"Ni":600},
      {"d":19,"Ni":660,"V":80,"Fe":40,"Mn":11},{"d":19.5,"Ni":500},
      {"d":20,"Ni":580,"V":120,"Fe":70,"Ti":16,"O":5,"Al":7},{"d":20.5,"Ni":540},
      {"d":21,"Ni":640,"V":100,"Fe":55,"Mn":8},{"d":21.5,"Ni":470},
      {"d":22,"Ni":600,"V":90,"Fe":60,"Ti":14,"O":8,"Al":9},{"d":22.5,"Ni":410},
      {"d":23,"Ni":560,"V":140,"Fe":75,"Mn":10},{"d":23.5,"Ni":640},
      {"d":24,"Ni":520,"V":110,"Fe":50,"Ti":10,"O":6,"Al":6},{"d":24.5,"Ni":600},
      {"d":25,"Ni":560,"V":80,"Fe":85,"Mn":12},{"d":25.5,"Ni":700},
      {"d":26,"Ni":480,"V":100,"Fe":60,"Ti":18,"O":5,"Al":8},{"d":26.5,"Ni":600},
      {"d":27,"Ni":540,"V":120,"Fe":45,"Mn":9},{"d":27.5,"Ni":720},
      {"d":28,"Ni":600,"V":90,"Fe":55,"Ti":12,"O":7,"Al":10},{"d":28.5,"Ni":660},
      {"d":29,"Ni":520,"V":110,"Fe":40,"Mn":11},{"d":29.5,"Ni":600},
      {"d":30,"Ni":430,"V":60,"Fe":30,"Ti":20,"O":10,"Al":12},{"d":30.5,"Ni":200,"O":150},
      {"d":31,"Ni":30,"V":20,"Fe":10,"O":330,"Mn":12,"Al":25,"Ti":28},{"d":31.5,"O":380},
      {"d":32,"O":340,"Al":35,"Ti":22,"V":18,"Fe":8},{"d":32.5,"O":400},
      {"d":33,"O":360,"Al":20,"Mn":10,"Ni":12},{"d":33.5,"O":300},
      {"d":34,"O":380,"Al":30,"Ti":15,"V":25,"Fe":6},{"d":34.5,"O":340},
      {"d":35,"O":410,"Al":18,"Mn":8,"Ni":10},{"d":35.5,"O":360},
      {"d":36,"O":320,"Al":28,"Ti":26,"V":12,"Fe":10},{"d":36.5,"O":390},
      {"d":37,"O":340,"Al":15,"Mn":12,"Ni":14},{"d":37.5,"O":420},
      {"d":38,"O":360,"Al":32,"Ti":18,"V":20,"Fe":7},{"d":38.5,"O":330},
      {"d":39,"O":400,"Al":22,"Mn":9,"Ni":11},{"d":39.5,"O":470},
      {"d":40,"O":350,"Al":36,"Ti":24,"V":14,"Fe":9},{"d":40.5,"O":300},
      {"d":41,"O":380,"Al":16,"Mn":11,"Ni":13},{"d":41.5,"O":420},
      {"d":42,"O":340,"Al":28,"Ti":12,"V":22,"Fe":6},{"d":42.5,"O":390},
      {"d":43,"O":450,"Al":20,"Mn":8,"Ni":10},{"d":43.5,"O":360},
      {"d":44,"O":320,"Al":34,"Ti":20,"V":16,"Fe":8},{"d":44.5,"O":400},
      {"d":45,"O":350,"Al":14,"Mn":10,"Ni":12},{"d":45.5,"O":440},
      {"d":46,"O":380,"Al":26,"Ti":28,"V":10,"Fe":10},{"d":46.5,"O":330},
      {"d":47,"O":420,"Al":38,"Mn":12,"Ni":14},{"d":47.5,"O":360},
      {"d":48,"O":300,"Al":18,"Ti":16,"V":24,"Fe":7},{"d":48.5,"O":390},
      {"d":49,"O":350,"Al":30,"Mn":9,"Ni":11},{"d":49.5,"O":260},
      {"d":50,"O":400,"Al":22,"Ti":22,"V":14,"Fe":9},{"d":50.5,"O":340},
      {"d":51,"O":380,"Al":34,"Mn":10,"Ni":10},{"d":51.5,"O":270},
      {"d":52,"O":420,"Al":16,"Ti":14,"V":20,"Fe":6},{"d":52.5,"O":360},
      {"d":53,"O":330,"Al":28,"Mn":11,"Ni":13},{"d":53.5,"O":400},
      {"d":54,"O":350,"Al":40,"Ti":26,"V":12,"Fe":8},{"d":54.5,"O":430},
      {"d":55,"O":370,"Al":20,"Mn":8,"Ni":12},{"d":55.5,"O":310},
      {"d":56,"O":390,"Al":32,"Ti":18,"V":26,"Fe":10},{"d":56.5,"O":340},
      {"d":57,"O":450,"Al":16,"Mn":12,"Ni":10},{"d":57.5,"O":380},
      {"d":58,"O":330,"Al":26,"Ti":24,"V":16,"Fe":7},{"d":58.5,"O":400},
      {"d":59,"O":360,"Al":36,"Mn":9,"Ni":14},{"d":59.5,"O":480},
      {"d":60,"O":340,"Al":22,"Ti":30,"V":18,"Fe":9},{"d":60.5,"O":390},
      {"d":61,"O":300,"Al":30,"Mn":11,"Ni":11},{"d":61.5,"O":420},
      {"d":62,"O":360,"Al":18,"Ti":16,"V":22,"Fe":6},{"d":62.5,"O":400},
      {"d":63,"O":340,"Al":34,"Mn":10,"Ni":12},{"d":63.5,"O":460},
      {"d":64,"O":380,"Al":24,"Ti":22,"V":14,"Fe":8},{"d":64.5,"O":320},
      {"d":65,"O":400,"Al":38,"Mn":8,"Ni":13},{"d":65.5,"O":350},
      {"d":66,"O":470,"Al":20,"Ti":26,"V":20,"Fe":10},{"d":66.5,"O":380},
      {"d":67,"O":330,"Al":28,"Mn":12,"Ni":10},{"d":67.5,"O":410},
      {"d":68,"O":360,"Al":16,"Ti":14,"V":24,"Fe":7},{"d":68.5,"O":300},
      {"d":69,"O":400,"Al":32,"Mn":9,"Ni":14},{"d":69.5,"O":350},
      {"d":70,"O":510,"Al":24,"Ti":20,"V":12,"Fe":9},{"d":70.5,"O":380},
      {"d":71,"O":330,"Al":36,"Mn":11,"Ni":11},{"d":71.5,"O":420},
      {"d":72,"O":360,"Al":18,"Ti":28,"V":18,"Fe":6},{"d":72.5,"O":400},
      {"d":73,"O":320,"Al":30,"Mn":10,"Ni":12},{"d":73.5,"O":380},
      {"d":74,"O":440,"Al":22,"Ti":16,"V":26,"Fe":8},{"d":74.5,"O":350},
      {"d":75,"O":400,"Al":40,"Mn":8,"Ni":10},{"d":75.5,"O":300},
      {"d":76,"O":480,"Al":20,"Ti":24,"V":14,"Fe":10},{"d":76.5,"O":360},
      {"d":77,"O":400,"Al":34,"Mn":12,"Ni":13},{"d":77.5,"O":330},
      {"d":78,"O":420,"Al":26,"Ti":18,"V":20,"Fe":7},{"d":78.5,"O":370},
      {"d":79,"O":390,"Al":16,"Mn":9,"Ni":11},{"d":79.5,"O":330},
      {"d":80,"O":220,"Al":30,"Ti":22,"V":16,"Fe":8,"Mn":10,"Ni":12}
    ],
    "L6": [
      {"d":0,"Ni":540,"Fe":110,"V":60,"Ti":10,"O":8,"Al":6},{"d":0.5,"Ni":600},
      {"d":1,"Ni":520,"Fe":130,"V":30,"Mn":10},{"d":1.5,"Ni":640},
      {"d":2,"Ni":580,"Fe":90,"V":80,"Ti":16,"O":6,"Al":9},{"d":2.5,"Ni":700},
      {"d":3,"Ni":560,"Fe":140,"V":40,"Mn":8},{"d":3.5,"Ni":620},
      {"d":4,"Ni":600,"Fe":100,"V":70,"Ti":12,"O":7,"Al":7},{"d":4.5,"Ni":720},
      {"d":5,"Ni":560,"Fe":120,"V":50,"Mn":12},{"d":5.5,"Ni":640},
      {"d":6,"Ni":520,"Fe":80,"V":30,"Ti":18,"O":5,"Al":10},{"d":6.5,"Ni":600},
      {"d":7,"Ni":580,"Fe":130,"V":90,"Mn":9},{"d":7.5,"Ni":640},
      {"d":8,"Ni":520,"Fe":110,"V":40,"Ti":10,"O":8,"Al":6},{"d":8.5,"Ni":450},
      {"d":9,"Ni":600,"Fe":180,"V":60,"Mn":11},{"d":9.5,"Ni":560},
      {"d":10,"Ni":620,"Fe":90,"V":70,"Ti":14,"O":6,"Al":8},{"d":10.5,"Ni":540},
      {"d":11,"Ni":600,"Fe":120,"V":30,"Mn":10},{"d":11.5,"Ni":700},
      {"d":12,"Ni":540,"Fe":190,"V":50,"Ti":20,"O":7,"Al":9},{"d":12.5,"Ni":680},
      {"d":13,"Ni":560,"Fe":100,"V":80,"Mn":8},{"d":13.5,"Ni":620},
      {"d":14,"Ni":730,"Fe":130,"V":40,"Ti":12,"O":5,"Al":7},{"d":14.5,"Ni":560},
      {"d":15,"Ni":640,"Fe":110,"V":60,"Mn":12},{"d":15.5,"Ni":500},
      {"d":16,"Ni":620,"Fe":150,"V":30,"Ti":16,"O":8,"Al":10},{"d":16.5,"Ni":560},
      {"d":17,"Ni":660,"Fe":90,"V":70,"Mn":9},{"d":17.5,"Ni":500},
      {"d":18,"Ni":600,"Fe":120,"V":50,"Ti":10,"O":6,"Al":6},{"d":18.5,"Ni":700},
      {"d":19,"Ni":520,"Fe":100,"V":40,"Mn":11},{"d":19.5,"Ni":640},
      {"d":20,"Ni":560,"Fe":160,"V":80,"Ti":18,"O":7,"Al":8},{"d":20.5,"Ni":690},
      {"d":21,"Ni":520,"Fe":110,"V":30,"Mn":10},{"d":21.5,"Ni":600},
      {"d":22,"Ni":480,"Fe":130,"V":60,"Ti":14,"O":5,"Al":9},{"d":22.5,"Ni":620},
      {"d":23,"Ni":560,"Fe":90,"V":50,"Mn":8},{"d":23.5,"Ni":600},
      {"d":24,"Ni":520,"Fe":120,"V":40,"Ti":12,"O":8,"Al":7},{"d":24.5,"Ni":640},
      {"d":25,"Ni":500,"Fe":100,"V":70,"Mn":12},{"d":25.5,"Ni":580},
      {"d":26,"Ni":660,"Fe":140,"V":30,"Ti":16,"O":6,"Al":10},{"d":26.5,"Ni":600},
      {"d":27,"Ni":640,"Fe":110,"V":50,"Mn":9},{"d":27.5,"Ni":560},
      {"d":28,"Ni":730,"Fe":90,"V":40,"Ti":10,"O":7,"Al":6},{"d":28.5,"Ni":580},
      {"d":29,"Ni":560,"Fe":100,"V":30,"Mn":11,"O":20},{"d":29.5,"Ni":520,"O":60},
      {"d":30,"Ni":440,"Fe":60,"V":20,"O":150,"Ti":20,"Al":12},{"d":30.5,"Ni":350,"O":200},
      {"d":31,"Ni":330,"Fe":50,"V":15,"O":240,"Mn":14},{"d":31.5,"Ni":280,"O":220},
      {"d":32,"Ni":240,"Fe":40,"V":10,"O":250,"Ti":25,"Al":20},{"d":32.5,"Ni":260,"O":230},
      {"d":33,"Ni":200,"Fe":30,"V":12,"O":290,"Mn":16},{"d":33.5,"Ni":80,"O":340},
      {"d":34,"Ni":20,"Fe":10,"V":8,"O":400,"Ti":30,"Al":35},{"d":34.5,"O":360},
      {"d":35,"O":450,"Al":28,"Mn":12,"Ni":14},{"d":35.5,"O":380},
      {"d":36,"O":500,"Al":40,"Ti":22,"Fe":8,"V":14},{"d":36.5,"O":400},
      {"d":37,"O":350,"Al":24,"Mn":10,"Ni":12},{"d":37.5,"O":420},
      {"d":38,"O":380,"Al":34,"Ti":16,"Fe":6,"V":20},{"d":38.5,"O":440},
      {"d":39,"O":340,"Al":18,"Mn":9,"Ni":10},{"d":39.5,"O":400},
      {"d":40,"O":360,"Al":30,"Ti":26,"Fe":9,"V":12},{"d":40.5,"O":460},
      {"d":41,"O":380,"Al":22,"Mn":11,"Ni":13},{"d":41.5,"O":330},
      {"d":42,"O":410,"Al":36,"Ti":14,"Fe":7,"V":18},{"d":42.5,"O":370},
      {"d":43,"O":450,"Al":16,"Mn":8,"Ni":11},{"d":43.5,"O":350},
      {"d":44,"O":400,"Al":28,"Ti":20,"Fe":10,"V":24},{"d":44.5,"O":300},
      {"d":45,"O":380,"Al":38,"Mn":12,"Ni":12},{"d":45.5,"O":430},
      {"d":46,"O":260,"Al":20,"Ti":24,"Fe":6,"V":14},{"d":46.5,"O":390},
      {"d":47,"O":440,"Al":32,"Mn":10,"Ni":14},{"d":47.5,"O":360},
      {"d":48,"O":410,"Al":18,"Ti":18,"Fe":8,"V":20},{"d":48.5,"O":340},
      {"d":49,"O":400,"Al":34,"Mn":9,"Ni":10},{"d":49.5,"O":480},
      {"d":50,"O":360,"Al":24,"Ti":28,"Fe":9,"V":12},{"d":50.5,"O":420},
      {"d":51,"O":330,"Al":40,"Mn":11,"Ni":12},{"d":51.5,"O":390},
      {"d":52,"O":440,"Al":22,"Ti":16,"Fe":7,"V":26},{"d":52.5,"O":350},
      {"d":53,"O":400,"Al":30,"Mn":8,"Ni":13},{"d":53.5,"O":300},
      {"d":54,"O":420,"Al":36,"Ti":22,"Fe":10,"V":16},{"d":54.5,"O":380},
      {"d":55,"O":460,"Al":18,"Mn":12,"Ni":11},{"d":55.5,"O":340},
      {"d":56,"O":400,"Al":28,"Ti":26,"Fe":6,"V":22},{"d":56.5,"O":270},
      {"d":57,"O":390,"Al":42,"Mn":10,"Ni":14},{"d":57.5,"O":440},
      {"d":58,"O":360,"Al":24,"Ti":14,"Fe":8,"V":14},{"d":58.5,"O":420},
      {"d":59,"O":330,"Al":34,"Mn":9,"Ni":10},{"d":59.5,"O":400},
      {"d":60,"O":470,"Al":20,"Ti":20,"Fe":9,"V":24},{"d":60.5,"O":350},
      {"d":61,"O":410,"Al":38,"Mn":11,"Ni":12},{"d":61.5,"O":290},
      {"d":62,"O":380,"Al":26,"Ti":28,"Fe":7,"V":16},{"d":62.5,"O":440},
      {"d":63,"O":360,"Al":32,"Mn":8,"Ni":13},{"d":63.5,"O":410},
      {"d":64,"O":330,"Al":18,"Ti":18,"Fe":10,"V":20},{"d":64.5,"O":400},
      {"d":65,"O":460,"Al":36,"Mn":12,"Ni":11},{"d":65.5,"O":360},
      {"d":66,"O":420,"Al":24,"Ti":24,"Fe":6,"V":12},{"d":66.5,"O":340},
      {"d":67,"O":390,"Al":40,"Mn":10,"Ni":14},{"d":67.5,"O":270},
      {"d":68,"O":420,"Al":22,"Ti":16,"Fe":8,"V":26},{"d":68.5,"O":380},
      {"d":69,"O":440,"Al":30,"Mn":9,"Ni":10},{"d":69.5,"O":360},
      {"d":70,"O":400,"Al":34,"Ti":22,"Fe":9,"V":18},{"d":70.5,"O":330},
      {"d":71,"O":410,"Al":20,"Mn":11,"Ni":12},{"d":71.5,"O":360},
      {"d":72,"O":430,"Al":38,"Ti":26,"Fe":7,"V":14},{"d":72.5,"O":350},
      {"d":73,"O":400,"Al":26,"Mn":8,"Ni":13},{"d":73.5,"O":320},
      {"d":74,"O":420,"Al":32,"Ti":18,"Fe":10,"V":22},{"d":74.5,"O":380},
      {"d":75,"O":530,"Al":18,"Mn":12,"Ni":11},{"d":75.5,"O":360},
      {"d":76,"O":420,"Al":36,"Ti":20,"Fe":6,"V":16},{"d":76.5,"O":340},
      {"d":77,"O":490,"Al":24,"Mn":10,"Ni":14},{"d":77.5,"O":380},
      {"d":78,"O":320,"Al":40,"Ti":28,"Fe":8,"V":24},{"d":78.5,"O":430},
      {"d":79,"O":370,"Al":22,"Mn":9,"Ni":10},{"d":79.5,"O":480},
      {"d":80,"O":360,"Al":30,"Ti":16,"Fe":9,"V":18},{"d":80.5,"O":420},
      {"d":81,"O":380,"Al":26,"Mn":11,"Ni":12,"Ti":20,"Fe":8,"V":14}
    ]
  },
  "resolve": {"scale": {"color": "independent"}, "legend": {"color": "independent"}},
  "spacing": 55,
  "vconcat": [
    {
      "spacing": 42,
      "resolve": {"scale": {"color": "independent"}, "legend": {"color": "independent"}},
      "title": {"text": "(a) Clad plate CP-100", "orient": "bottom", "anchor": "middle", "fontSize": 64, "offset": 50},
      "hconcat": [
        {
          "spacing": 31,
          "resolve": {"scale": {"color": "independent"}, "legend": {"color": "independent"}},
          "vconcat": [
            {"width": 1301, "height": 1, "view": {"stroke": null}, "data": {"values": [{}]}, "mark": {"type": "point", "opacity": 0}, "encoding": {}},
            {
              "width": 1301, "height": 1060,
              "data": {"name": "B1"},
              "transform": [{"fold": ["Ti","Fe","Al","V","Mn","O","Ni"], "as": ["el","v"]}, {"calculate": "indexof(['Ti','Fe','Al','V','Mn','O','Ni'], datum.el)", "as": "k"}],
              "mark": {"type": "bar", "stroke": "#000000", "strokeWidth": 2},
              "encoding": {
                "x": {"field": "s", "type": "nominal", "sort": null, "scale": {"paddingInner": 0.405, "paddingOuter": 0.2}, "axis": {"title": null, "labelAngle": 0, "labelFontSize": 66, "tickSize": -12, "labelPadding": 46}},
                "y": {"field": "v", "type": "quantitative", "stack": "zero", "scale": {"domain": [0,100], "nice": false}, "axis": {"title": "wt/%", "titleFontSize": 66, "values": [0,20,40,60,80,100], "labelFontSize": 66, "tickSize": -14, "labelPadding": 35, "titlePadding": 25}},
                "color": {"field": "el", "type": "nominal", "scale": {"domain": ["Ti","Fe","Al","V","Mn","O","Ni"], "range": ["#FFBF87","#99FA7D","#BCB4E4","#FFFF8F","#9FC5E8","#F0B4F5","#BABD95"]},
                  "legend": {"orient": "none", "legendX": -180, "legendY": -134, "direction": "horizontal", "title": null, "symbolType": "M-1,-0.5H1V0.5H-1Z", "symbolSize": 11664, "symbolStrokeColor": "#000000", "symbolStrokeWidth": 2, "symbolOpacity": 1, "labelFontSize": 68, "labelOffset": 18, "columnPadding": 23}},
                "order": {"field": "k", "type": "quantitative"}
              }
            }
          ]
        },
        {
          "spacing": 12,
          "resolve": {"scale": {"color": "independent"}, "legend": {"color": "independent"}},
          "vconcat": [
            {
              "width": 1819, "height": 481,
              "layer": [
                {
                  "data": {"name": "L1"},
                  "transform": [{"fold": ["Ti","Al","Fe","O","V","Mn","Ni"], "as": ["el","v"]}, {"filter": "isValid(datum.v)"}],
                  "mark": {"type": "line", "strokeWidth": 3, "clip": true},
                  "encoding": {
                    "x": {"field": "d", "type": "quantitative", "scale": {"domain": [0,118], "nice": false, "zero": false}, "axis": {"title": "Distance/µm", "values": [0,10,20,30,40,50,60,70,80,90,100], "labelFontSize": 64, "titleFontSize": 64, "tickSize": -16, "labelPadding": 42, "titlePadding": 30, "labelFlush": true, "labelFlushOffset": 54}},
                    "y": {"field": "v", "type": "quantitative", "scale": {"domain": [0,950], "nice": false}, "axis": {"title": "Counts per second", "titleFont": "DejaVu Serif", "titleFontSize": 48, "values": [200,400,600,800], "labelFontSize": 64, "tickSize": -16, "labelPadding": 40, "titlePadding": 45}},
                    "color": {"field": "el", "type": "nominal", "scale": {"domain": ["Ti","Al","Fe","O","V","Mn","Ni"], "range": ["#F2183C","#3FD83F","#8B3DF2","#8FF2E0","#EEFF4A","#FF5A1E","#A9C81A"]},
                      "legend": {"orient": "none", "legendX": 1524, "legendY": 54, "title": null, "labelExpr": "datum.label + ' Kα1'", "labelFontSize": 53, "symbolType": "stroke", "symbolSize": 2000, "symbolStrokeWidth": 6, "labelOffset": 16}}
                  }
                },
                {"data": {"values": [{}]}, "mark": {"type": "rule", "color": "#222222", "strokeWidth": 2.5, "strokeDash": [10,7]}, "encoding": {"x": {"datum": 35.2}}},
                {"data": {"values": [{}]}, "mark": {"type": "rule", "color": "#3344EE", "strokeWidth": 2.5, "strokeDash": [10,7]}, "encoding": {"x": {"datum": 37.1}}},
                {"data": {"values": [{}]}, "mark": {"type": "text", "fontSize": 64, "text": "Line 1"}, "encoding": {"x": {"datum": 73.3}, "y": {"datum": 883}}}
              ]
            },
            {
              "width": 1819, "height": 455,
              "layer": [
                {
                  "data": {"name": "L2"},
                  "transform": [{"fold": ["Ti","Al","Fe","O","V","Mn","Ni"], "as": ["el","v"]}, {"filter": "isValid(datum.v)"}],
                  "mark": {"type": "line", "strokeWidth": 3, "clip": true},
                  "encoding": {
                    "x": {"field": "d", "type": "quantitative", "scale": {"domain": [0,125], "nice": false, "zero": false}, "axis": {"title": "Distance/µm", "values": [0,10,20,30,40,50,60,70,80,90,100,110], "labelFontSize": 64, "titleFontSize": 64, "tickSize": -16, "labelPadding": 65, "titlePadding": 43, "labelFlush": true, "labelFlushOffset": 54}},
                    "y": {"field": "v", "type": "quantitative", "scale": {"domain": [0,1000], "nice": false}, "axis": {"title": "Counts per second", "titleFont": "DejaVu Serif", "titleFontSize": 48, "values": [200,400,600,800], "labelFontSize": 64, "tickSize": -16, "labelPadding": 40, "titlePadding": 45}},
                    "color": {"field": "el", "type": "nominal", "scale": {"domain": ["Ti","Al","Fe","O","V","Mn","Ni"], "range": ["#F2183C","#3FD83F","#8B3DF2","#D6D6D6","#EEFF4A","#FF5A1E","#A9C81A"]},
                      "legend": {"orient": "none", "legendX": 1524, "legendY": 52, "title": null, "labelExpr": "datum.label + ' Kα1'", "labelFontSize": 53, "symbolType": "stroke", "symbolSize": 2000, "symbolStrokeWidth": 6, "labelOffset": 16}}
                  }
                },
                {"data": {"values": [{}]}, "mark": {"type": "rule", "color": "#222222", "strokeWidth": 2.5, "strokeDash": [10,7]}, "encoding": {"x": {"datum": 36.7}}},
                {"data": {"values": [{}]}, "mark": {"type": "rule", "color": "#3344EE", "strokeWidth": 2.5, "strokeDash": [10,7]}, "encoding": {"x": {"datum": 38.4}}},
                {"data": {"values": [{}]}, "mark": {"type": "rule", "color": "#222222", "strokeWidth": 2.5, "strokeDash": [10,7]}, "encoding": {"x": {"datum": 46.9}}},
                {"data": {"values": [{}]}, "mark": {"type": "rule", "color": "#3344EE", "strokeWidth": 2.5, "strokeDash": [10,7]}, "encoding": {"x": {"datum": 48.2}}},
                {"data": {"values": [{}]}, "mark": {"type": "rule", "color": "#222222", "strokeWidth": 2.5, "strokeDash": [10,7]}, "encoding": {"x": {"datum": 52.4}}},
                {"data": {"values": [{}]}, "mark": {"type": "rule", "color": "#3344EE", "strokeWidth": 2.5, "strokeDash": [10,7]}, "encoding": {"x": {"datum": 53.7}}},
                {"data": {"values": [{}]}, "mark": {"type": "text", "fontSize": 64, "font": "Noto Sans CJK SC", "text": "①"}, "encoding": {"x": {"datum": 37.9}, "y": {"datum": 877}}},
                {"data": {"values": [{}]}, "mark": {"type": "text", "fontSize": 64, "font": "Noto Sans CJK SC", "text": "②"}, "encoding": {"x": {"datum": 47.8}, "y": {"datum": 877}}},
                {"data": {"values": [{}]}, "mark": {"type": "text", "fontSize": 64, "font": "Noto Sans CJK SC", "text": "③"}, "encoding": {"x": {"datum": 53.3}, "y": {"datum": 877}}},
                {"data": {"values": [{}]}, "mark": {"type": "text", "fontSize": 64, "text": "Line 2"}, "encoding": {"x": {"datum": 77.9}, "y": {"datum": 886}}}
              ]
            }
          ]
        }
      ]
    },
    {
      "spacing": 42,
      "resolve": {"scale": {"color": "independent"}, "legend": {"color": "independent"}},
      "title": {"text": "(b) Clad plate CP-60", "orient": "bottom", "anchor": "middle", "fontSize": 64, "offset": 30},
      "hconcat": [
        {
          "spacing": 76,
          "resolve": {"scale": {"color": "independent"}, "legend": {"color": "independent"}},
          "vconcat": [
            {"width": 1301, "height": 1, "view": {"stroke": null}, "data": {"values": [{}]}, "mark": {"type": "point", "opacity": 0}, "encoding": {}},
            {
              "width": 1301, "height": 1044,
              "data": {"name": "B2"},
              "transform": [{"fold": ["Ti","Fe","Al","V","Mn","O","Ni"], "as": ["el","v"]}, {"calculate": "indexof(['Ti','Fe','Al','V','Mn','O','Ni'], datum.el)", "as": "k"}],
              "mark": {"type": "bar", "stroke": "#000000", "strokeWidth": 2},
              "encoding": {
                "x": {"field": "s", "type": "nominal", "sort": null, "scale": {"paddingInner": 0.405, "paddingOuter": 0.2}, "axis": {"title": null, "labelAngle": 0, "labelFontSize": 66, "tickSize": -12, "labelPadding": 46}},
                "y": {"field": "v", "type": "quantitative", "stack": "zero", "scale": {"domain": [0,100], "nice": false}, "axis": {"title": "wt/%", "titleFontSize": 66, "values": [0,20,40,60,80,100], "labelFontSize": 66, "tickSize": -14, "labelPadding": 35, "titlePadding": 25}},
                "color": {"field": "el", "type": "nominal", "scale": {"domain": ["Ti","Fe","Al","V","Mn","O","Ni"], "range": ["#FFBF87","#99FA7D","#BCB4E4","#FFFF8F","#9FC5E8","#F0B4F5","#BABD95"]}, "legend": null},
                "order": {"field": "k", "type": "quantitative"}
              }
            }
          ]
        },
        {
          "spacing": 14,
          "resolve": {"scale": {"color": "independent"}, "legend": {"color": "independent"}},
          "vconcat": [
            {
              "width": 1819, "height": 499,
              "layer": [
                {
                  "data": {"name": "L3"},
                  "transform": [{"fold": ["Ti","Fe","Br","O","Al","V","Mn","Ni"], "as": ["el","v"]}, {"filter": "isValid(datum.v)"}],
                  "mark": {"type": "line", "strokeWidth": 3, "clip": true},
                  "encoding": {
                    "x": {"field": "d", "type": "quantitative", "scale": {"domain": [0,121], "nice": false, "zero": false}, "axis": {"title": "Distance/µm", "values": [0,10,20,30,40,50,60,70,80,90,100], "labelFontSize": 64, "titleFontSize": 64, "tickSize": -16, "labelPadding": 42, "titlePadding": 30, "labelFlush": true, "labelFlushOffset": 54}},
                    "y": {"field": "v", "type": "quantitative", "scale": {"domain": [0,970], "nice": false}, "axis": {"title": "Counts per second", "titleFont": "DejaVu Serif", "titleFontSize": 48, "values": [200,400,600,800], "labelFontSize": 64, "tickSize": -16, "labelPadding": 40, "titlePadding": 45}},
                    "color": {"field": "el", "type": "nominal", "scale": {"domain": ["Ti","Fe","Br","O","Al","V","Mn","Ni"], "range": ["#F2183C","#74D600","#8CF0DA","#5B3BF0","#F2FF3A","#FF6A1E","#B6C800","#7BEA7B"]},
                      "legend": {"orient": "none", "legendX": 1494, "legendY": 41, "title": null, "labelExpr": "datum.label == 'Br' ? 'Br Lα1, 2' : datum.label + ' Kα1'", "labelFontSize": 52, "symbolType": "stroke", "symbolSize": 2000, "symbolStrokeWidth": 6, "labelOffset": 16}}
                  }
                },
                {"data": {"values": [{}]}, "mark": {"type": "rule", "color": "#3344EE", "strokeWidth": 2.5, "strokeDash": [10,7]}, "encoding": {"x": {"datum": 31.9}}},
                {"data": {"values": [{}]}, "mark": {"type": "rule", "color": "#222222", "strokeWidth": 2.5, "strokeDash": [10,7]}, "encoding": {"x": {"datum": 33.5}}},
                {"data": {"values": [{}]}, "mark": {"type": "text", "fontSize": 64, "text": "Line 3"}, "encoding": {"x": {"datum": 76.2}, "y": {"datum": 861}}}
              ]
            },
            {
              "width": 1819, "height": 498,
              "layer": [
                {
                  "data": {"name": "L4"},
                  "transform": [{"fold": ["Ti","Fe","Br","O","Al","V","Mn","Ni"], "as": ["el","v"]}, {"filter": "isValid(datum.v)"}],
                  "mark": {"type": "line", "strokeWidth": 3, "clip": true},
                  "encoding": {
                    "x": {"field": "d", "type": "quantitative", "scale": {"domain": [0,108], "nice": false, "zero": false}, "axis": {"title": "Distance/µm", "values": [0,5,10,15,20,25,30,35,40,45,50,55,60,65,70,75,80,85,90], "labelFontSize": 64, "titleFontSize": 64, "tickSize": -16, "labelPadding": 42, "titlePadding": 30, "labelFlush": true, "labelFlushOffset": 54}},
                    "y": {"field": "v", "type": "quantitative", "scale": {"domain": [0,935], "nice": false}, "axis": {"title": "Counts per second", "titleFont": "DejaVu Serif", "titleFontSize": 48, "values": [200,400,600,800], "labelFontSize": 64, "tickSize": -16, "labelPadding": 40, "titlePadding": 45}},
                    "color": {"field": "el", "type": "nominal", "scale": {"domain": ["Ti","Fe","Br","O","Al","V","Mn","Ni"], "range": ["#F2183C","#74D600","#8CF0DA","#5B3BF0","#F2FF3A","#FF5A1E","#B6C800","#7BEA7B"]},
                      "legend": {"orient": "none", "legendX": 1494, "legendY": 45, "title": null, "labelExpr": "datum.label == 'Br' ? 'Br Lα1, 2' : datum.label + ' Kα1'", "labelFontSize": 52, "symbolType": "stroke", "symbolSize": 2000, "symbolStrokeWidth": 6, "labelOffset": 16}}
                  }
                },
                {"data": {"values": [{}]}, "mark": {"type": "rule", "color": "#222222", "strokeWidth": 2.5, "strokeDash": [10,7]}, "encoding": {"x": {"datum": 31.3}}},
                {"data": {"values": [{}]}, "mark": {"type": "rule", "color": "#3344EE", "strokeWidth": 2.5, "strokeDash": [10,7]}, "encoding": {"x": {"datum": 33.2}}},
                {"data": {"values": [{}]}, "mark": {"type": "rule", "color": "#3344EE", "strokeWidth": 2.5, "strokeDash": [10,7]}, "encoding": {"x": {"datum": 36.6}}},
                {"data": {"values": [{}]}, "mark": {"type": "rule", "color": "#222222", "strokeWidth": 2.5, "strokeDash": [10,7]}, "encoding": {"x": {"datum": 37.4}}},
                {"data": {"values": [{}]}, "mark": {"type": "rule", "color": "#3344EE", "strokeWidth": 2.5, "strokeDash": [10,7]}, "encoding": {"x": {"datum": 40.1}}},
                {"data": {"values": [{}]}, "mark": {"type": "rule", "color": "#222222", "strokeWidth": 2.5, "strokeDash": [10,7]}, "encoding": {"x": {"datum": 40.9}}},
                {"data": {"values": [{}]}, "mark": {"type": "text", "fontSize": 64, "font": "Noto Sans CJK SC", "text": "①"}, "encoding": {"x": {"datum": 32.6}, "y": {"datum": 841}}},
                {"data": {"values": [{}]}, "mark": {"type": "text", "fontSize": 64, "font": "Noto Sans CJK SC", "text": "②"}, "encoding": {"x": {"datum": 37.0}, "y": {"datum": 841}}},
                {"data": {"values": [{}]}, "mark": {"type": "text", "fontSize": 64, "font": "Noto Sans CJK SC", "text": "③"}, "encoding": {"x": {"datum": 40.8}, "y": {"datum": 841}}},
                {"data": {"values": [{}]}, "mark": {"type": "text", "fontSize": 64, "text": "Line 4"}, "encoding": {"x": {"datum": 68.0}, "y": {"datum": 837}}}
              ]
            }
          ]
        }
      ]
    },
    {
      "spacing": 42,
      "resolve": {"scale": {"color": "independent"}, "legend": {"color": "independent"}},
      "title": {"text": "(c) Clad plate CP-20", "orient": "bottom", "anchor": "middle", "fontSize": 64, "offset": 34},
      "hconcat": [
        {
          "spacing": 46,
          "resolve": {"scale": {"color": "independent"}, "legend": {"color": "independent"}},
          "vconcat": [
            {"width": 1301, "height": 1, "view": {"stroke": null}, "data": {"values": [{}]}, "mark": {"type": "point", "opacity": 0}, "encoding": {}},
            {
              "width": 1301, "height": 1046,
              "data": {"name": "B3"},
              "transform": [{"fold": ["Ti","Fe","Al","V","Mn","O","Ni"], "as": ["el","v"]}, {"calculate": "indexof(['Ti','Fe','Al','V','Mn','O','Ni'], datum.el)", "as": "k"}],
              "mark": {"type": "bar", "stroke": "#000000", "strokeWidth": 2},
              "encoding": {
                "x": {"field": "s", "type": "nominal", "sort": null, "scale": {"paddingInner": 0.405, "paddingOuter": 0.2}, "axis": {"title": null, "labelAngle": 0, "labelFontSize": 66, "tickSize": -12, "labelPadding": 46}},
                "y": {"field": "v", "type": "quantitative", "stack": "zero", "scale": {"domain": [0,100], "nice": false}, "axis": {"title": "wt/%", "titleFontSize": 66, "values": [0,20,40,60,80,100], "labelFontSize": 66, "tickSize": -14, "labelPadding": 35, "titlePadding": 25}},
                "color": {"field": "el", "type": "nominal", "scale": {"domain": ["Ti","Fe","Al","V","Mn","O","Ni"], "range": ["#FFBF87","#99FA7D","#BCB4E4","#FFFF8F","#9FC5E8","#F0B4F5","#BABD95"]}, "legend": null},
                "order": {"field": "k", "type": "quantitative"}
              }
            }
          ]
        },
        {
          "spacing": 20,
          "resolve": {"scale": {"color": "independent"}, "legend": {"color": "independent"}},
          "vconcat": [
            {
              "width": 1819, "height": 497,
              "layer": [
                {
                  "data": {"name": "L5"},
                  "transform": [{"fold": ["Ni","Ti","Fe","O","V","Al","Mn"], "as": ["el","v"]}, {"filter": "isValid(datum.v)"}],
                  "mark": {"type": "line", "strokeWidth": 3, "clip": true},
                  "encoding": {
                    "x": {"field": "d", "type": "quantitative", "scale": {"domain": [0,107], "nice": false, "zero": false}, "axis": {"title": "Distance/µm", "values": [0,5,10,15,20,25,30,35,40,45,50,55,60,65,70,75,80,85,90,95], "labelFontSize": 64, "titleFontSize": 64, "tickSize": -16, "labelPadding": 42, "titlePadding": 30, "labelFlush": true, "labelFlushOffset": 54}},
                    "y": {"field": "v", "type": "quantitative", "scale": {"domain": [0,725], "nice": false}, "axis": {"title": "Counts per second", "titleFont": "DejaVu Serif", "titleFontSize": 48, "values": [100,200,300,400,500,600,700], "labelFontSize": 64, "tickSize": -16, "labelPadding": 40, "titlePadding": 45}},
                    "color": {"field": "el", "type": "nominal", "scale": {"domain": ["Ni","Ti","Fe","O","V","Al","Mn"], "range": ["#F2183C","#9ACD00","#8844F5","#84EED8","#EEFF44","#FF5A22","#B0BE00"]},
                      "legend": {"orient": "none", "legendX": 1486, "legendY": 70, "title": null, "labelExpr": "datum.label + ' Kα1'", "labelFontSize": 53, "symbolType": "stroke", "symbolSize": 2000, "symbolStrokeWidth": 6, "labelOffset": 16}}
                  }
                },
                {"data": {"values": [{}]}, "mark": {"type": "rule", "color": "#222222", "strokeWidth": 2.5, "strokeDash": [10,7]}, "encoding": {"x": {"datum": 29.6}}},
                {"data": {"values": [{}]}, "mark": {"type": "rule", "color": "#3344EE", "strokeWidth": 2.5, "strokeDash": [10,7]}, "encoding": {"x": {"datum": 31.5}}},
                {"data": {"values": [{}]}, "mark": {"type": "text", "fontSize": 64, "text": "Line 5"}, "encoding": {"x": {"datum": 67.1}, "y": {"datum": 674}}}
              ]
            },
            {
              "width": 1819, "height": 498,
              "layer": [
                {
                  "data": {"name": "L6"},
                  "transform": [{"fold": ["Ni","Ti","Fe","O","V","Al","Mn"], "as": ["el","v"]}, {"filter": "isValid(datum.v)"}],
                  "mark": {"type": "line", "strokeWidth": 3, "clip": true},
                  "encoding": {
                    "x": {"field": "d", "type": "quantitative", "scale": {"domain": [0,115], "nice": false, "zero": false}, "axis": {"title": "Distance/µm", "values": [0,10,20,30,40,50,60,70,80,90,100], "labelFontSize": 64, "titleFontSize": 64, "tickSize": -16, "labelPadding": 42, "titlePadding": 30, "labelFlush": true, "labelFlushOffset": 54}},
                    "y": {"field": "v", "type": "quantitative", "scale": {"domain": [0,750], "nice": false}, "axis": {"title": "Counts per second", "titleFont": "DejaVu Serif", "titleFontSize": 48, "values": [100,200,300,400,500,600,700], "labelFontSize": 64, "tickSize": -16, "labelPadding": 40, "titlePadding": 45}},
                    "color": {"field": "el", "type": "nominal", "scale": {"domain": ["Ni","Ti","Fe","O","V","Al","Mn"], "range": ["#F2183C","#9ACD00","#8844F5","#84EED8","#EEFF44","#FF5A22","#B0BE00"]},
                      "legend": {"orient": "none", "legendX": 1486, "legendY": 60, "title": null, "labelExpr": "datum.label + ' Kα1'", "labelFontSize": 53, "symbolType": "stroke", "symbolSize": 2000, "symbolStrokeWidth": 6, "labelOffset": 16}}
                  }
                },
                {"data": {"values": [{}]}, "mark": {"type": "rule", "color": "#3344EE", "strokeWidth": 2.5, "strokeDash": [10,7]}, "encoding": {"x": {"datum": 29.0}}},
                {"data": {"values": [{}]}, "mark": {"type": "rule", "color": "#222222", "strokeWidth": 2.5, "strokeDash": [10,7]}, "encoding": {"x": {"datum": 31.1}}},
                {"data": {"values": [{}]}, "mark": {"type": "rule", "color": "#3344EE", "strokeWidth": 2.5, "strokeDash": [10,7]}, "encoding": {"x": {"datum": 32.7}}},
                {"data": {"values": [{}]}, "mark": {"type": "rule", "color": "#222222", "strokeWidth": 2.5, "strokeDash": [10,7]}, "encoding": {"x": {"datum": 34.2}}},
                {"data": {"values": [{}]}, "mark": {"type": "rule", "color": "#222222", "strokeWidth": 2.5, "strokeDash": [10,7]}, "encoding": {"x": {"datum": 35.8}}},
                {"data": {"values": [{}]}, "mark": {"type": "rule", "color": "#3344EE", "strokeWidth": 2.5, "strokeDash": [10,7]}, "encoding": {"x": {"datum": 37.6}}},
                {"data": {"values": [{}]}, "mark": {"type": "text", "fontSize": 64, "font": "Noto Sans CJK SC", "text": "①"}, "encoding": {"x": {"datum": 29.8}, "y": {"datum": 687}}},
                {"data": {"values": [{}]}, "mark": {"type": "text", "fontSize": 64, "font": "Noto Sans CJK SC", "text": "②"}, "encoding": {"x": {"datum": 33.3}, "y": {"datum": 687}}},
                {"data": {"values": [{}]}, "mark": {"type": "text", "fontSize": 64, "font": "Noto Sans CJK SC", "text": "③"}, "encoding": {"x": {"datum": 36.6}, "y": {"datum": 687}}},
                {"data": {"values": [{}]}, "mark": {"type": "text", "fontSize": 64, "text": "Line 6"}, "encoding": {"x": {"datum": 72.1}, "y": {"datum": 685}}}
              ]
            }
          ]
        }
      ]
    }
  ]
}
